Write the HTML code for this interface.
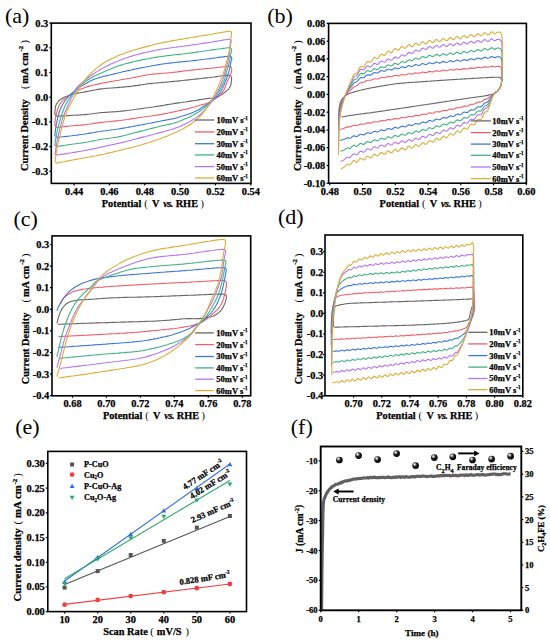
<!DOCTYPE html>
<html><head><meta charset="utf-8"><style>
html,body{margin:0;padding:0;background:#fff;}
body{width:550px;height:641px;overflow:hidden;}
svg{display:block;font-family:"Liberation Serif", serif;}
text{stroke:#000;stroke-width:0.25px;}
text[font-weight="normal"],tspan[font-weight="normal"]{stroke:none;}
</style></head><body>
<svg width="550" height="641" viewBox="0 0 550 641">
<rect width="550" height="641" fill="#fff"/>
<text x="5.0" y="22.6" font-size="22" font-weight="normal">(a)</text>
<path d="M54.8,113.8l0.1,-2 0.2,-2 0.2,-1.9 0.3,-1.6 0.5,-1.4 0.7,-1.3 0.7,-1.1 1.1,-1.5 1.4,-1.2 1.1,-0.9 1.3,-0.7 1.3,-0.7 1.6,-0.7 1.7,-0.6 1.8,-0.6 1.4,-0.5 1.5,-0.5 1.6,-0.4 1.7,-0.4 1.5,-0.4 1.6,-0.3 1.6,-0.3 1.7,-0.3 1.8,-0.3 1.8,-0.3 1.7,-0.3 1.7,-0.4 1.8,-0.3 1.8,-0.4 1.9,-0.4 1.9,-0.3 2.1,-0.4 2.1,-0.3 1.6,-0.2 1.7,-0.2 1.8,-0.2 1.8,-0.2 1.9,-0.1 2,-0.2 1.9,-0.1 2,-0.2 2,-0.1 2,-0.2 2,-0.1 2,-0.2 1.9,-0.2 1.9,-0.1 1.8,-0.2 1.7,-0.2 2,-0.2 1.9,-0.3 1.8,-0.3 1.9,-0.2 1.8,-0.3 1.7,-0.3 1.8,-0.2 1.8,-0.3 1.7,-0.2 1.8,-0.3 1.8,-0.2 1.8,-0.2 1.8,-0.2 1.9,-0.2 1.8,-0.1 1.8,-0.2 1.8,-0.1 1.8,-0.2 1.8,-0.1 1.9,-0.2 1.8,-0.1 1.8,-0.2 1.8,-0.2 1.8,-0.2 1.9,-0.1 1.8,-0.2 1.8,-0.2 1.8,-0.2 1.8,-0.2 1.8,-0.2 1.9,-0.2 1.8,-0.2 1.8,-0.2 1.8,-0.2 1.9,-0.2 1.8,-0.2 1.8,-0.2 1.9,-0.2 1.8,-0.2 1.8,-0.2 1.8,-0.2 1.8,-0.2 1.8,-0.2 1.8,-0.2 2.1,-0.3 2.1,-0.2 2.3,-0.4 2.2,-0.3 2.1,-0.3 2,-0.2 1.8,-0.2 1.6,-0.2 1.3,0 1.8,0 1.2,0.4 0.8,1.2 0.3,1.5 0,1.4 -0.3,1.6 -0.2,1.5 -0.2,1.7 -0.5,1.5 -0.7,1.2 -0.8,1.1 -1,1.1 -1.1,1.1 -1.3,1.1 -1.4,1.1 -1.3,0.9 -1.4,0.9 -1.4,0.8 -1.4,0.7 -1.7,0.6 -1.8,0.5 -1.9,0.4 -1.5,0.3 -1.7,0.2 -1.6,0.2 -1.7,0.2 -1.7,0.2 -1.6,0.3 -1.6,0.2 -1.6,0.3 -1.7,0.3 -1.7,0.3 -1.9,0.3 -1.9,0.3 -2,0.3 -2.1,0.3 -2,0.3 -1.9,0.3 -1.7,0.2 -1.6,0.3 -1.6,0.2 -1.6,0.2 -1.7,0.2 -1.8,0.3 -1.7,0.3 -1.8,0.3 -1.8,0.3 -1.9,0.3 -1.9,0.3 -1.9,0.4 -2,0.3 -2,0.3 -1.7,0.3 -1.8,0.2 -1.7,0.3 -1.9,0.3 -1.8,0.2 -1.8,0.3 -1.9,0.3 -1.9,0.2 -1.8,0.3 -1.9,0.3 -1.8,0.2 -1.8,0.2 -1.8,0.3 -1.9,0.2 -1.8,0.3 -1.8,0.2 -1.8,0.3 -1.8,0.2 -1.8,0.2 -1.9,0.2 -1.8,0.2 -1.8,0.2 -1.8,0.2 -1.9,0.1 -1.8,0.2 -1.9,0.1 -1.9,0.1 -1.8,0.1 -1.8,0.2 -1.9,0.1 -1.7,0.1 -1.8,0.1 -1.7,0.2 -2,0.2 -1.9,0.2 -1.9,0.3 -1.8,0.2 -1.9,0.3 -1.8,0.2 -1.8,0.2 -1.9,0.2 -1.9,0.2 -1.9,0.1 -1.9,0.1 -1.9,0.1 -1.8,0.1 -1.9,0.1 -1.9,0.1 -1.8,0.1 -1.9,0.1 -1.9,0.1 -1.9,0.1 -1.8,0.1 -1.9,0.1 -1.8,0.1 -1.9,0.2Z" fill="none" stroke="#666666" stroke-width="1.1" stroke-linejoin="round"/>
<path d="M54.8,125l0.1,-1.9 0.2,-1.9 0.2,-1.8 0.3,-1.9 0.4,-1.9 0.4,-1.9 0.5,-1.9 0.6,-1.8 0.5,-1.7 0.6,-1.6 0.6,-1.5 0.8,-1.4 1.1,-1.6 1.3,-1.5 1.4,-1.3 1.1,-1 1.2,-1 1.3,-0.9 1.4,-0.9 1.4,-1 1.5,-0.9 1.6,-0.9 1.7,-0.9 1.5,-0.8 1.6,-0.7 1.6,-0.8 1.7,-0.7 1.8,-0.7 1.8,-0.7 1.7,-0.6 1.7,-0.5 1.7,-0.5 1.9,-0.4 1.8,-0.5 2,-0.5 2,-0.4 2.2,-0.5 1.6,-0.3 1.7,-0.4 1.8,-0.3 1.8,-0.4 1.9,-0.3 2,-0.4 1.9,-0.3 2,-0.4 2,-0.3 2,-0.3 2,-0.4 2,-0.3 1.9,-0.3 1.9,-0.4 1.8,-0.3 1.7,-0.3 2,-0.4 1.9,-0.3 1.8,-0.4 1.9,-0.4 1.8,-0.3 1.7,-0.4 1.8,-0.3 1.7,-0.3 1.8,-0.4 1.8,-0.2 1.8,-0.3 1.8,-0.2 1.8,-0.2 1.8,-0.2 1.9,-0.2 1.8,-0.1 1.8,-0.1 1.8,-0.2 1.8,-0.1 1.9,-0.2 1.8,-0.1 1.8,-0.2 1.8,-0.2 1.8,-0.2 1.9,-0.2 1.8,-0.2 1.8,-0.3 1.8,-0.2 1.8,-0.2 1.8,-0.3 1.9,-0.2 1.8,-0.2 1.8,-0.2 1.8,-0.2 1.8,-0.2 1.9,-0.2 1.8,-0.2 1.8,-0.1 1.8,-0.2 1.9,-0.2 1.8,-0.2 1.8,-0.2 1.8,-0.1 1.8,-0.2 2,-0.2 2.2,-0.3 2.2,-0.2 2.2,-0.3 2.2,-0.2 2.1,-0.3 1.9,-0.1 1.7,-0.2 1.4,0 1.1,0 1.1,0.1 0.7,0.4 0.7,1.1 0.3,1.4 -0.2,1.7 -0.5,1.8 -0.6,1.8 -0.7,1.7 -0.9,1.6 -1,1.9 -0.6,1.4 -0.6,1.7 -0.7,1.8 -0.7,1.8 -0.7,1.8 -0.8,1.5 -1,1.6 -1,1.6 -1.1,1.3 -1.2,1.3 -1.4,1.1 -1.7,0.9 -1.6,0.9 -1.6,0.9 -1.4,0.9 -1.3,0.8 -1.3,0.9 -1.5,0.7 -1.4,0.6 -1.5,0.5 -1.6,0.4 -1.6,0.4 -1.6,0.5 -1.6,0.5 -1.7,0.5 -1.6,0.5 -1.8,0.5 -1.9,0.5 -1.6,0.4 -1.7,0.4 -1.8,0.5 -1.9,0.4 -1.9,0.4 -1.9,0.5 -1.9,0.4 -1.9,0.4 -1.8,0.4 -1.9,0.4 -1.8,0.4 -1.9,0.4 -1.8,0.4 -1.8,0.3 -1.9,0.4 -1.9,0.4 -2,0.3 -1.7,0.3 -1.8,0.3 -1.7,0.2 -1.9,0.3 -1.8,0.3 -1.8,0.2 -1.9,0.3 -1.9,0.2 -1.8,0.3 -1.9,0.2 -1.8,0.3 -1.8,0.3 -1.8,0.3 -1.9,0.2 -1.8,0.3 -1.8,0.3 -1.8,0.3 -1.8,0.3 -1.8,0.2 -1.9,0.3 -1.8,0.3 -1.8,0.2 -1.8,0.2 -1.9,0.2 -1.8,0.2 -1.9,0.2 -1.9,0.2 -1.8,0.2 -1.8,0.1 -1.9,0.2 -1.7,0.2 -1.8,0.2 -1.7,0.2 -2,0.3 -1.9,0.2 -1.9,0.3 -1.8,0.3 -1.9,0.3 -1.8,0.3 -1.8,0.2 -1.9,0.3 -1.9,0.1 -1.9,0.2 -1.9,0.2 -1.9,0.1 -1.8,0.1 -1.9,0.2 -1.9,0.1 -1.8,0.2 -1.9,0.2 -1.9,0.2 -1.9,0.2 -1.8,0.2 -1.9,0.3 -1.8,0.2 -1.9,0.2Z" fill="none" stroke="#EE5E6A" stroke-width="1.1" stroke-linejoin="round"/>
<path d="M54.8,135.6l0.2,-1.9 0.2,-1.9 0.3,-1.9 0.2,-1.8 0.3,-1.8 0.3,-2 0.4,-1.8 0.4,-1.9 0.4,-1.8 0.4,-1.8 0.5,-1.8 0.5,-1.7 0.5,-1.8 0.6,-1.7 0.6,-1.6 0.7,-1.5 0.8,-1.5 0.8,-1.5 0.9,-1.4 0.8,-1.3 1,-1.3 1,-1.3 1.1,-1.2 1.1,-1.1 1.1,-1.2 1.3,-1.2 1.2,-1.2 1.3,-1.1 1.3,-1 1.5,-1.1 1.4,-1.1 1.6,-1 1.8,-1.1 1.4,-0.9 1.5,-0.9 1.7,-1 1.7,-1 1.8,-0.9 1.9,-1 1.8,-0.8 1.9,-0.8 1.8,-0.6 1.7,-0.6 1.8,-0.5 1.9,-0.5 1.9,-0.5 1.8,-0.4 2,-0.5 1.9,-0.4 2,-0.5 1.7,-0.4 1.8,-0.5 1.8,-0.4 1.9,-0.5 1.9,-0.4 1.9,-0.5 1.9,-0.4 1.8,-0.4 1.9,-0.4 1.8,-0.4 1.7,-0.4 1.7,-0.4 2,-0.4 1.9,-0.4 1.8,-0.4 1.8,-0.3 1.8,-0.4 1.7,-0.3 1.8,-0.4 1.8,-0.3 1.8,-0.3 1.9,-0.4 1.8,-0.3 1.8,-0.3 1.8,-0.3 1.9,-0.3 1.7,-0.3 1.8,-0.3 1.8,-0.3 1.7,-0.2 1.8,-0.2 1.7,-0.2 1.7,-0.2 1.8,-0.2 1.8,-0.2 1.8,-0.2 1.8,-0.2 1.8,-0.2 1.9,-0.1 1.9,-0.2 1.9,-0.2 1.9,-0.2 2,-0.2 1.7,-0.2 1.8,-0.2 1.8,-0.2 1.8,-0.2 1.8,-0.2 1.9,-0.3 1.8,-0.2 1.9,-0.2 1.9,-0.3 1.8,-0.2 1.8,-0.2 2,-0.3 2.2,-0.2 2.2,-0.3 2.2,-0.4 2.2,-0.3 2.1,-0.2 2,-0.3 1.6,-0.2 1.4,-0.1 1.1,-0.1 0.9,-0.1 0.7,0.2 0.8,0.9 0.4,1.2 -0.1,1.2 -0.5,1.3 -0.4,1.4 -0.3,1.6 -0.3,1.8 -0.3,1.8 -0.3,1.7 -0.5,1.7 -0.5,1.5 -0.5,1.6 -0.5,1.4 -0.5,1.5 -0.5,1.5 -0.6,1.6 -0.6,1.6 -0.7,1.7 -0.7,1.7 -0.8,1.8 -0.8,1.7 -0.8,1.5 -1,1.7 -0.9,1.7 -1.1,1.5 -1.1,1.4 -1.2,1.2 -1.3,1.2 -1.4,1.1 -1.5,1.1 -1.5,1.1 -1.6,1 -1.7,1.2 -1.7,1.1 -1.7,1 -1.6,1 -1.5,0.9 -1.4,1 -1.4,0.8 -1.5,0.8 -1.5,0.8 -1.7,0.7 -1.8,0.7 -1.8,0.7 -1.9,0.6 -1.9,0.6 -1.7,0.6 -1.8,0.5 -1.8,0.6 -1.8,0.6 -1.9,0.5 -1.9,0.5 -1.7,0.4 -1.8,0.4 -1.8,0.4 -1.9,0.3 -1.9,0.4 -1.9,0.3 -2,0.4 -2,0.4 -1.7,0.3 -1.8,0.4 -1.7,0.3 -1.9,0.4 -1.8,0.4 -1.8,0.3 -1.9,0.4 -1.9,0.3 -1.8,0.4 -1.9,0.4 -1.8,0.3 -1.8,0.3 -1.8,0.4 -1.9,0.3 -1.8,0.4 -1.8,0.3 -1.8,0.3 -1.8,0.4 -1.8,0.3 -1.9,0.3 -1.8,0.3 -1.8,0.3 -1.8,0.3 -1.9,0.3 -1.8,0.2 -1.9,0.3 -1.9,0.2 -1.8,0.3 -1.8,0.2 -1.9,0.3 -1.7,0.2 -1.8,0.2 -1.7,0.3 -2,0.3 -1.9,0.3 -1.9,0.4 -1.8,0.3 -1.9,0.3 -1.8,0.3 -1.8,0.3 -1.9,0.3 -1.9,0.3 -1.9,0.2 -1.9,0.3 -1.9,0.3 -1.9,0.2 -1.8,0.2 -1.9,0.3 -1.8,0.2 -1.8,0.2 -1.9,0.2 -1.7,0.2 -1.8,0.2 -1.8,0.2 -1.7,0.2 -1.8,0.2Z" fill="none" stroke="#3A78D6" stroke-width="1.1" stroke-linejoin="round"/>
<path d="M54.8,145.6l0.2,-1.8 0.3,-1.8 0.2,-1.8 0.3,-1.7 0.3,-1.8 0.3,-1.7 0.4,-1.8 0.3,-1.7 0.4,-1.8 0.5,-1.7 0.4,-1.7 0.4,-1.7 0.4,-1.6 0.5,-1.7 0.5,-1.7 0.5,-1.7 0.5,-1.6 0.5,-1.7 0.6,-1.6 0.6,-1.7 0.6,-1.6 0.7,-1.7 0.6,-1.5 0.7,-1.5 0.8,-1.6 0.9,-1.5 0.9,-1.4 0.9,-1.5 1,-1.5 1.1,-1.6 1.1,-1.7 1.2,-1.8 1.2,-1.7 1.1,-1.5 1.1,-1.2 1,-1 1,-0.7 1.2,-0.8 1.1,-0.8 1.3,-1 1.4,-1 1.4,-1.1 1.6,-1.1 1.6,-1 1.6,-1 1.5,-0.8 1.5,-0.9 1.6,-0.8 1.6,-0.7 1.7,-0.8 1.6,-0.8 1.7,-0.7 1.7,-0.8 1.6,-0.7 1.8,-0.8 1.8,-0.8 1.8,-0.7 1.9,-0.8 1.8,-0.7 1.8,-0.7 1.9,-0.7 1.8,-0.6 1.8,-0.6 1.8,-0.5 1.8,-0.6 1.8,-0.5 1.8,-0.4 1.9,-0.5 1.8,-0.5 1.8,-0.4 1.8,-0.4 1.8,-0.4 1.9,-0.4 1.8,-0.4 1.8,-0.4 1.8,-0.3 1.9,-0.4 1.8,-0.3 1.8,-0.3 1.9,-0.4 1.8,-0.3 1.8,-0.3 1.8,-0.3 1.9,-0.3 1.7,-0.2 1.8,-0.3 1.8,-0.2 1.7,-0.3 1.8,-0.2 1.7,-0.2 1.7,-0.2 1.8,-0.2 1.8,-0.2 1.8,-0.2 1.8,-0.2 1.8,-0.2 1.9,-0.2 1.9,-0.2 1.9,-0.2 1.9,-0.3 2,-0.2 1.7,-0.2 1.8,-0.3 1.8,-0.2 1.8,-0.3 1.8,-0.3 1.9,-0.3 1.8,-0.2 1.9,-0.3 1.9,-0.3 1.8,-0.2 1.8,-0.3 2,-0.3 2.2,-0.3 2.2,-0.3 2.2,-0.3 2.2,-0.3 2.1,-0.3 2,-0.2 1.6,-0.2 1.4,-0.2 1.1,0 1,0 0.6,0.2 0.7,0.9 0.3,1.3 -0.1,1.2 -0.4,1.3 -0.4,1.4 -0.3,1.6 -0.2,1.7 -0.3,1.8 -0.3,1.7 -0.4,1.8 -0.4,1.8 -0.5,1.7 -0.4,1.6 -0.6,1.8 -0.7,1.9 -0.4,1.5 -0.4,1.6 -0.4,1.8 -0.4,1.8 -0.6,1.8 -0.6,1.7 -0.8,1.7 -0.8,1.7 -0.8,1.7 -0.9,1.7 -0.8,1.5 -1,1.8 -1,1.6 -1.1,1.6 -1.1,1.5 -1,1.3 -1.1,1.2 -1.1,1.2 -1.3,1.3 -1.2,1.2 -1.4,1.4 -1.4,1.4 -1.6,1.3 -1.5,1.4 -1.6,1.2 -1.5,1.1 -1.5,1 -1.6,1 -1.6,0.9 -1.6,0.9 -1.6,0.9 -1.5,0.8 -1.7,0.9 -1.7,0.8 -1.7,0.7 -1.6,0.7 -1.7,0.7 -1.6,0.6 -1.5,0.7 -1.5,0.6 -1.6,0.5 -1.8,0.6 -1.6,0.5 -1.8,0.4 -1.8,0.4 -1.9,0.4 -1.9,0.5 -2,0.4 -2,0.4 -2,0.5 -1.7,0.4 -1.8,0.5 -1.8,0.4 -1.8,0.5 -1.8,0.4 -1.8,0.5 -1.9,0.5 -1.9,0.5 -1.8,0.5 -1.9,0.4 -1.8,0.5 -1.8,0.5 -1.8,0.5 -1.8,0.4 -1.9,0.5 -1.8,0.5 -1.8,0.5 -1.8,0.5 -1.8,0.5 -1.9,0.4 -1.8,0.4 -1.8,0.4 -1.8,0.4 -1.9,0.3 -1.8,0.3 -1.9,0.3 -1.8,0.2 -1.9,0.3 -1.8,0.2 -1.9,0.3 -1.7,0.2 -1.8,0.3 -1.7,0.3 -2,0.4 -1.9,0.3 -1.9,0.4 -1.8,0.4 -1.9,0.4 -1.8,0.3 -1.8,0.4 -1.9,0.3 -1.9,0.3 -1.9,0.3 -1.9,0.2 -1.9,0.2 -1.9,0.3 -1.8,0.2 -1.9,0.2 -1.8,0.3 -1.9,0.3 -1.8,0.3 -1.8,0.2 -1.8,0.3 -1.8,0.3 -1.8,0.3 -1.8,0.3Z" fill="none" stroke="#40B283" stroke-width="1.1" stroke-linejoin="round"/>
<path d="M55,154.4l0.3,-1.8 0.2,-1.9 0.3,-1.8 0.3,-1.9 0.3,-1.8 0.3,-1.9 0.3,-1.8 0.4,-1.8 0.3,-1.8 0.4,-1.8 0.4,-1.8 0.4,-1.8 0.5,-1.7 0.4,-1.8 0.4,-1.7 0.5,-1.8 0.4,-1.7 0.5,-1.7 0.5,-1.7 0.5,-1.7 0.6,-1.7 0.6,-1.7 0.7,-1.8 0.7,-1.8 0.8,-1.7 0.7,-1.7 0.8,-1.7 0.7,-1.6 0.9,-1.9 0.8,-1.8 0.9,-1.8 0.8,-1.8 0.9,-1.7 0.8,-1.7 0.9,-1.7 0.9,-1.7 0.8,-1.5 0.9,-1.4 1,-1.3 1,-1 1.2,-1.2 1.1,-1 1.3,-1.1 1.3,-1.2 1.5,-1.2 1.6,-1.3 1.6,-1.2 1.6,-1.2 1.5,-1 1.5,-1.1 1.6,-1 1.6,-1.1 1.6,-1 1.7,-1.1 1.7,-0.9 1.6,-1 1.7,-0.9 1.6,-0.8 1.6,-0.8 1.6,-0.8 1.6,-0.8 1.7,-0.7 1.6,-0.7 1.6,-0.7 1.7,-0.6 1.6,-0.7 1.8,-0.7 1.8,-0.7 1.8,-0.7 1.8,-0.6 1.8,-0.7 1.9,-0.6 1.8,-0.5 1.8,-0.6 1.8,-0.5 1.8,-0.5 1.9,-0.5 1.8,-0.4 1.8,-0.5 1.8,-0.4 1.9,-0.4 1.8,-0.4 1.8,-0.4 1.8,-0.4 1.9,-0.4 1.8,-0.4 1.8,-0.3 1.9,-0.4 1.7,-0.3 1.8,-0.3 1.8,-0.3 1.7,-0.2 1.8,-0.3 1.7,-0.2 1.7,-0.2 1.8,-0.3 1.8,-0.2 1.8,-0.2 1.8,-0.3 1.8,-0.2 1.9,-0.3 1.9,-0.2 1.9,-0.3 1.9,-0.2 2,-0.3 1.7,-0.2 1.8,-0.3 1.8,-0.3 1.8,-0.2 1.8,-0.3 1.9,-0.3 1.8,-0.3 1.9,-0.3 1.9,-0.2 1.8,-0.3 1.8,-0.3 2,-0.3 2.2,-0.4 2.2,-0.4 2.3,-0.3 2.2,-0.4 2.1,-0.4 1.9,-0.3 1.7,-0.2 1.4,-0.2 1,-0.1 0.8,-0.1 0.6,0.2 0.5,0.6 0.3,1 -0.1,1.2 -0.4,1.4 -0.4,1.6 -0.2,1.5 -0.2,1.6 -0.2,1.8 -0.2,1.9 -0.2,1.8 -0.3,1.7 -0.3,1.7 -0.3,1.7 -0.4,1.6 -0.3,1.6 -0.4,1.6 -0.5,1.9 -0.5,1.8 -0.5,1.9 -0.5,1.9 -0.5,1.7 -0.4,1.8 -0.5,1.7 -0.6,1.8 -0.6,1.8 -0.6,1.6 -0.7,1.7 -0.7,1.7 -0.7,1.7 -0.8,1.7 -0.8,1.6 -0.8,1.7 -0.9,1.6 -0.9,1.7 -0.9,1.6 -0.9,1.5 -0.8,1.4 -1.1,1.6 -1,1.4 -1.2,1.5 -0.9,1.2 -1.1,1.3 -1.1,1.3 -1.1,1.3 -1.2,1.3 -1.1,1.2 -1.3,1.2 -1.2,1.1 -1.3,1.1 -1.3,1 -1.5,1.1 -1.4,1 -1.5,0.9 -1.5,1 -1.6,0.9 -1.7,1 -1.6,0.9 -1.6,0.8 -1.8,0.9 -1.7,0.8 -1.8,0.8 -1.8,0.8 -1.9,0.7 -1.9,0.7 -1.7,0.6 -1.8,0.6 -1.8,0.5 -1.9,0.5 -1.9,0.5 -1.9,0.5 -2,0.6 -2,0.5 -1.7,0.5 -1.8,0.4 -1.7,0.5 -1.9,0.5 -1.8,0.5 -1.8,0.5 -1.9,0.5 -1.9,0.5 -1.8,0.4 -1.9,0.5 -1.8,0.5 -1.8,0.5 -1.8,0.4 -1.9,0.5 -1.8,0.5 -1.8,0.5 -1.8,0.4 -1.8,0.5 -1.8,0.5 -1.9,0.4 -1.8,0.5 -1.8,0.4 -1.8,0.4 -1.9,0.4 -1.8,0.4 -1.9,0.4 -1.8,0.4 -1.9,0.4 -1.8,0.4 -1.8,0.4 -1.8,0.4 -1.8,0.3 -1.7,0.4 -2,0.4 -1.9,0.5 -1.9,0.4 -1.8,0.4 -1.9,0.4 -1.8,0.4 -1.8,0.3 -1.9,0.4 -1.9,0.3 -1.9,0.4 -1.9,0.3 -1.9,0.3 -1.8,0.3 -1.9,0.3 -1.9,0.3 -1.8,0.3 -1.9,0.3 -1.9,0.3 -1.8,0.3 -1.9,0.3 -1.8,0.2 -1.9,0.3 -1.8,0.3Z" fill="none" stroke="#B277EE" stroke-width="1.1" stroke-linejoin="round"/>
<path d="M55,160.6l0.3,-1.9 0.3,-1.9 0.3,-1.8 0.3,-1.9 0.3,-1.9 0.4,-1.8 0.3,-1.9 0.4,-1.8 0.3,-1.8 0.4,-1.8 0.4,-1.7 0.4,-1.8 0.5,-1.8 0.4,-1.8 0.5,-1.9 0.4,-2 0.5,-1.9 0.5,-2 0.5,-1.9 0.6,-1.9 0.5,-1.9 0.5,-1.7 0.6,-1.8 0.6,-1.8 0.6,-1.7 0.6,-1.6 0.5,-1.5 0.6,-1.4 0.8,-1.8 0.8,-1.6 0.9,-1.6 0.8,-1.6 0.9,-1.6 0.9,-1.6 0.9,-1.7 0.8,-1.6 0.9,-1.6 0.8,-1.6 0.9,-1.6 0.9,-1.6 0.9,-1.6 0.9,-1.5 1,-1.5 1,-1.6 1.1,-1.5 1.1,-1.4 1.1,-1.4 1.1,-1.5 1.2,-1.4 1.4,-1.4 1.4,-1.5 1.2,-1.2 1.3,-1.2 1.4,-1.2 1.4,-1.2 1.5,-1.3 1.5,-1.2 1.6,-1.2 1.5,-1.1 1.6,-1.1 1.5,-1 1.6,-1 1.6,-0.9 1.6,-0.8 1.6,-0.9 1.6,-0.7 1.7,-0.8 1.6,-0.7 1.7,-0.7 1.6,-0.7 1.8,-0.7 1.8,-0.7 1.8,-0.7 1.8,-0.6 1.8,-0.6 1.9,-0.6 1.8,-0.5 1.8,-0.6 1.8,-0.6 1.8,-0.5 1.9,-0.6 1.8,-0.5 1.8,-0.5 1.8,-0.5 1.9,-0.5 1.8,-0.5 1.8,-0.5 1.8,-0.4 1.9,-0.5 1.8,-0.5 1.8,-0.4 1.9,-0.4 1.7,-0.4 1.8,-0.4 1.8,-0.4 1.7,-0.3 1.8,-0.3 1.7,-0.4 1.7,-0.3 1.8,-0.3 1.8,-0.3 1.8,-0.3 1.8,-0.3 1.8,-0.3 1.9,-0.3 1.9,-0.3 1.9,-0.4 1.9,-0.3 2,-0.3 1.7,-0.3 1.8,-0.3 1.8,-0.3 1.8,-0.3 1.8,-0.3 1.9,-0.3 1.9,-0.3 1.8,-0.3 1.9,-0.3 1.8,-0.3 1.8,-0.3 2,-0.3 2.1,-0.4 2.1,-0.4 2.2,-0.4 2.1,-0.4 2.1,-0.3 1.8,-0.4 1.7,-0.2 1.4,-0.3 1,-0.1 1,-0.2 0.7,0.1 0.8,0.6 0.5,1.1 0.1,1.5 -0.4,1.8 -0.3,2.1 -0.2,1.5 -0.2,1.7 -0.2,1.8 -0.2,1.8 -0.2,1.8 -0.3,1.7 -0.3,1.7 -0.4,1.7 -0.3,1.6 -0.4,1.6 -0.4,1.6 -0.4,1.8 -0.4,1.7 -0.5,1.7 -0.4,1.7 -0.5,1.8 -0.5,1.9 -0.5,1.9 -0.6,1.9 -0.6,1.7 -0.6,1.8 -0.6,1.7 -0.7,1.8 -0.7,1.8 -0.6,1.6 -0.7,1.7 -0.6,1.7 -0.7,1.7 -0.8,1.6 -0.7,1.7 -0.8,1.7 -0.9,1.7 -0.9,1.8 -0.9,1.7 -0.9,1.6 -0.8,1.5 -1,1.7 -0.9,1.5 -0.9,1.5 -1,1.5 -1,1.5 -1,1.5 -1.1,1.6 -1.1,1.5 -1.2,1.5 -1.2,1.4 -1.3,1.3 -1.3,1.3 -1.4,1.3 -1.4,1.2 -1.5,1.2 -1.5,1.1 -1.5,1.1 -1.6,1.1 -1.5,1 -1.6,1 -1.6,1 -1.6,0.9 -1.8,0.9 -1.5,0.7 -1.6,0.8 -1.6,0.8 -1.7,0.7 -1.8,0.8 -1.7,0.7 -1.6,0.7 -1.7,0.7 -1.5,0.7 -1.6,0.6 -1.6,0.7 -1.7,0.6 -1.9,0.7 -1.6,0.6 -1.6,0.5 -1.7,0.6 -1.8,0.6 -1.9,0.6 -1.9,0.6 -1.9,0.6 -1.9,0.6 -2,0.6 -1.8,0.6 -1.9,0.5 -1.8,0.5 -1.8,0.5 -1.8,0.5 -1.9,0.5 -1.8,0.4 -1.8,0.5 -1.8,0.4 -1.8,0.5 -1.9,0.4 -1.8,0.5 -1.8,0.4 -1.8,0.4 -1.9,0.5 -1.8,0.4 -1.9,0.5 -1.8,0.4 -1.9,0.4 -1.8,0.5 -1.8,0.4 -1.8,0.4 -1.8,0.3 -1.7,0.4 -2,0.4 -1.9,0.4 -1.9,0.3 -1.8,0.4 -1.9,0.3 -1.8,0.3 -1.8,0.4 -1.9,0.3 -1.9,0.3 -1.9,0.4 -1.9,0.3 -1.8,0.4 -1.9,0.3 -1.9,0.4 -1.9,0.3 -1.8,0.4 -2,0.4 -1.9,0.4 -2,0.4 -1.9,0.3 -1.9,0.4 -2,0.4 -1.9,0.4Z" fill="none" stroke="#DAAD34" stroke-width="1.1" stroke-linejoin="round"/>
<rect x="51.30" y="23.10" width="199.70" height="160.30" fill="none" stroke="#000" stroke-width="1.6"/>
<line x1="49.30" y1="23.10" x2="51.30" y2="23.10" stroke="#000" stroke-width="1.2"/>
<text x="48.20" y="26.50" font-size="10.4" text-anchor="end" font-weight="bold" >0.3</text>
<line x1="49.30" y1="47.80" x2="51.30" y2="47.80" stroke="#000" stroke-width="1.2"/>
<text x="48.20" y="51.20" font-size="10.4" text-anchor="end" font-weight="bold" >0.2</text>
<line x1="49.30" y1="72.50" x2="51.30" y2="72.50" stroke="#000" stroke-width="1.2"/>
<text x="48.20" y="75.90" font-size="10.4" text-anchor="end" font-weight="bold" >0.1</text>
<line x1="49.30" y1="97.20" x2="51.30" y2="97.20" stroke="#000" stroke-width="1.2"/>
<text x="48.20" y="100.60" font-size="10.4" text-anchor="end" font-weight="bold" >0.0</text>
<line x1="49.30" y1="121.90" x2="51.30" y2="121.90" stroke="#000" stroke-width="1.2"/>
<text x="48.20" y="125.30" font-size="10.4" text-anchor="end" font-weight="bold" >-0.1</text>
<line x1="49.30" y1="146.60" x2="51.30" y2="146.60" stroke="#000" stroke-width="1.2"/>
<text x="48.20" y="150.00" font-size="10.4" text-anchor="end" font-weight="bold" >-0.2</text>
<line x1="49.30" y1="171.30" x2="51.30" y2="171.30" stroke="#000" stroke-width="1.2"/>
<text x="48.20" y="174.70" font-size="10.4" text-anchor="end" font-weight="bold" >-0.3</text>
<line x1="74.10" y1="183.40" x2="74.10" y2="185.40" stroke="#000" stroke-width="1.2"/>
<text x="74.10" y="195.20" font-size="10.4" text-anchor="middle" font-weight="bold" >0.44</text>
<line x1="109.44" y1="183.40" x2="109.44" y2="185.40" stroke="#000" stroke-width="1.2"/>
<text x="109.44" y="195.20" font-size="10.4" text-anchor="middle" font-weight="bold" >0.46</text>
<line x1="144.78" y1="183.40" x2="144.78" y2="185.40" stroke="#000" stroke-width="1.2"/>
<text x="144.78" y="195.20" font-size="10.4" text-anchor="middle" font-weight="bold" >0.48</text>
<line x1="180.12" y1="183.40" x2="180.12" y2="185.40" stroke="#000" stroke-width="1.2"/>
<text x="180.12" y="195.20" font-size="10.4" text-anchor="middle" font-weight="bold" >0.50</text>
<line x1="215.46" y1="183.40" x2="215.46" y2="185.40" stroke="#000" stroke-width="1.2"/>
<text x="215.46" y="195.20" font-size="10.4" text-anchor="middle" font-weight="bold" >0.52</text>
<line x1="250.80" y1="183.40" x2="250.80" y2="185.40" stroke="#000" stroke-width="1.2"/>
<text x="250.80" y="195.20" font-size="10.4" text-anchor="middle" font-weight="bold" >0.54</text>
<text y="207.00" font-size="10.3" font-weight="bold"><tspan x="101.80">Potential</tspan><tspan x="144.20" font-weight="normal">(</tspan><tspan x="152.00">V</tspan><tspan x="163.20" font-style="italic" letter-spacing="-0.45">vs.</tspan><tspan x="175.70">RHE</tspan><tspan x="200.40" font-weight="normal">)</tspan></text>
<text transform="translate(27.60,0) rotate(-90)" y="0" font-size="10.3" font-weight="bold"><tspan x="-170.90">Current Density</tspan><tspan x="-89.10" font-weight="normal">(</tspan><tspan x="-83.70">mA cm</tspan><tspan x="-51.40" font-size="6.80" dy="-4.43">-2</tspan><tspan x="-43.60" dy="4.43" font-weight="normal">)</tspan></text>
<line x1="195.00" y1="120.00" x2="214.30" y2="120.00" stroke="#666666" stroke-width="1.3"/>
<text x="216.50" y="122.90" font-size="8.5" font-weight="bold">10mV s<tspan font-size="5.10" dy="-3.40">-1</tspan></text>
<line x1="195.00" y1="131.90" x2="214.30" y2="131.90" stroke="#EE5E6A" stroke-width="1.3"/>
<text x="216.50" y="134.80" font-size="8.5" font-weight="bold">20mV s<tspan font-size="5.10" dy="-3.40">-1</tspan></text>
<line x1="195.00" y1="143.70" x2="214.30" y2="143.70" stroke="#3A78D6" stroke-width="1.3"/>
<text x="216.50" y="146.60" font-size="8.5" font-weight="bold">30mV s<tspan font-size="5.10" dy="-3.40">-1</tspan></text>
<line x1="195.00" y1="154.90" x2="214.30" y2="154.90" stroke="#40B283" stroke-width="1.3"/>
<text x="216.50" y="157.80" font-size="8.5" font-weight="bold">40mV s<tspan font-size="5.10" dy="-3.40">-1</tspan></text>
<line x1="195.00" y1="166.60" x2="214.30" y2="166.60" stroke="#B277EE" stroke-width="1.3"/>
<text x="216.50" y="169.50" font-size="8.5" font-weight="bold">50mV s<tspan font-size="5.10" dy="-3.40">-1</tspan></text>
<line x1="195.00" y1="178.00" x2="214.30" y2="178.00" stroke="#DAAD34" stroke-width="1.3"/>
<text x="216.50" y="180.90" font-size="8.5" font-weight="bold">60mV s<tspan font-size="5.10" dy="-3.40">-1</tspan></text>
<text x="267.3" y="22.6" font-size="22" font-weight="normal">(b)</text>
<path d="M338.8,116l0,-0.9 0.1,-0.9 0,-0.9 0,-0.9 0,-0.9 0.1,-0.9 0,-0.9 0.1,-0.9 0.1,-0.8 0.1,-0.9 0.2,-0.9 0.1,-0.9 0.2,-0.9 0.2,-0.8 0.2,-0.8 0.3,-0.8 0.4,-0.9 0.5,-0.8 0.5,-0.8 0.5,-0.8 0.6,-0.7 0.7,-0.7 0.7,-0.6 0.7,-0.6 0.8,-0.6 0.7,-0.5 0.8,-0.4 0.7,-0.5 0.9,-0.4 1,-0.4 0.7,-0.3 0.8,-0.3 0.9,-0.3 0.9,-0.2 0.9,-0.3 1,-0.3 1,-0.3 1,-0.2 1,-0.3 1.1,-0.3 1,-0.2 1.1,-0.3 0.9,-0.2 0.8,-0.2 0.9,-0.2 0.9,-0.2 1,-0.2 0.9,-0.2 0.9,-0.2 1,-0.2 1,-0.2 1,-0.2 0.9,-0.2 1,-0.2 1,-0.1 1,-0.2 1,-0.2 1,-0.2 1,-0.2 0.9,-0.1 1,-0.2 1,-0.2 0.9,-0.1 0.9,-0.2 1,-0.2 0.9,-0.1 0.9,-0.2 0.9,-0.1 1,-0.2 0.9,-0.1 0.9,-0.2 1,-0.1 0.9,-0.2 1,-0.1 0.9,-0.2 1,-0.1 1,-0.1 1,-0.2 1.1,-0.1 1,-0.1 0.9,-0.1 0.9,-0.1 0.9,-0.1 0.9,-0.1 0.9,-0.1 0.9,0 0.9,-0.1 1,-0.1 0.9,-0.1 1,-0.1 0.9,0 1,-0.1 1,-0.1 1,0 0.9,-0.1 1,-0.1 1,0 1,-0.1 1,-0.1 1,0 1.1,-0.1 1,-0.1 1,0 1,-0.1 1.1,-0.1 1,-0.1 1.1,0 1,-0.1 0.9,-0.1 0.9,0 1,-0.1 0.9,-0.1 1,0 0.9,-0.1 1,-0.1 0.9,0 1,-0.1 1,-0.1 0.9,0 1,-0.1 1,-0.1 1,0 1,-0.1 1,-0.1 1,0 1,-0.1 1,-0.1 1,0 1,-0.1 1,-0.1 1,0 1,-0.1 1,-0.1 1,0 1,-0.1 1,-0.1 1,0 1,-0.1 1,0 1,-0.1 1,-0.1 1,0 1,-0.1 1,0 1,-0.1 1,-0.1 1,0 1.1,-0.1 1,0 1.1,-0.1 1.2,-0.1 1.1,0 1.1,-0.1 1.2,-0.1 1.1,-0.1 1.2,0 1.2,-0.1 1.1,-0.1 1.2,0 1.2,-0.1 1.1,-0.1 1.2,0 1.1,-0.1 1.1,-0.1 1.1,0 1.1,-0.1 1.1,0 1,-0.1 1,0 1,-0.1 1,0 0.9,-0.1 0.9,0 0.8,0 0.8,-0.1 0.8,0 0.7,0 0.7,0 0.6,0 0.6,0 0.5,0 0.4,0 1.1,0 0.8,0 0.7,0.3 0.6,0.9 0.4,1.2 0.3,0.6 0.1,-0.2 0.1,-0.1 0,0.3 -0.1,0.7 -0.1,1 -0.2,1.2 -0.3,1.2 -0.3,1.1 -0.3,1 -0.4,0.8 -0.4,0.8 -0.4,0.7 -0.5,0.7 -0.5,0.7 -0.5,0.6 -0.6,0.6 -0.6,0.5 -0.7,0.5 -0.7,0.5 -0.8,0.4 -0.7,0.3 -0.8,0.3 -0.9,0.3 -0.8,0.3 -1,0.2 -1,0.2 -1,0.2 -1,0.3 -1.1,0.2 -0.8,0.2 -0.8,0.1 -0.9,0.2 -0.8,0.1 -0.9,0.1 -0.9,0.2 -0.9,0.1 -0.9,0.1 -0.9,0.1 -1,0.2 -1,0.1 -1,0.1 -1.1,0.2 -1.1,0.1 -1.1,0.2 -1.2,0.1 -1.2,0.2 -0.7,0.1 -0.8,0.1 -0.8,0.1 -0.8,0.2 -0.8,0.1 -0.8,0.1 -0.9,0.1 -0.9,0.2 -0.9,0.1 -0.9,0.1 -0.9,0.2 -0.9,0.1 -1,0.2 -0.9,0.1 -1,0.1 -1,0.2 -1,0.1 -1,0.2 -1,0.1 -1,0.2 -1,0.1 -1,0.2 -1.1,0.2 -1,0.1 -1.1,0.2 -1,0.1 -1.1,0.2 -1.1,0.2 -1,0.1 -1.1,0.2 -1.1,0.1 -1,0.2 -1.1,0.2 -1.1,0.1 -1,0.2 -1.1,0.1 -1.1,0.2 -1,0.2 -1.1,0.1 -1,0.2 -1.1,0.1 -1,0.2 -1.1,0.1 -1,0.2 -1,0.2 -1,0.1 -1,0.2 -1,0.1 -1,0.1 -1,0.2 -1,0.1 -1,0.2 -1,0.1 -1,0.2 -1,0.2 -1.1,0.1 -1,0.2 -1,0.1 -1,0.2 -1.1,0.1 -1,0.2 -1,0.1 -1.1,0.2 -1,0.1 -1.1,0.2 -1,0.2 -1,0.1 -1.1,0.2 -1,0.1 -1,0.2 -1.1,0.1 -1,0.2 -1,0.1 -1,0.2 -1,0.1 -1,0.2 -1.1,0.1 -1,0.2 -1,0.1 -0.9,0.2 -1,0.1 -1,0.2 -1,0.1 -0.9,0.1 -1,0.2 -0.9,0.1 -1,0.2 -0.9,0.1 -0.9,0.1 -0.9,0.2 -0.9,0.1 -0.9,0.1 -0.9,0.1 -0.8,0.2 -0.9,0.1 -0.8,0.1 -1.1,0.2 -1.1,0.1 -1.1,0.2 -1.1,0.1 -1.1,0.2 -1.1,0.1 -1,0.1 -1.1,0.2 -1,0.1 -1.1,0.2 -1,0.1 -1,0.1 -1,0.2 -1,0.1 -1,0.1 -0.9,0.1 -0.9,0.2 -0.9,0.1 -0.9,0.1 -0.9,0.1 -0.8,0.1 -0.9,0.2 -0.8,0.1 -0.7,0.1 -0.8,0.1 -0.7,0.1 -1.2,0.2 -1,0.2 -1,0.1 -0.9,0.2 -0.9,0.2 -0.9,0.1 -0.9,0.2 -0.9,0.1 -0.9,0.2" fill="none" stroke="#666666" stroke-width="1.1" stroke-linejoin="round"/>
<path d="M338.6,125l0,-0.9 0,-1 0.1,-0.9 0,-1 0,-1 0,-0.9 0,-1 0,-1 0,-0.9 0.1,-0.9 0,-0.9 0.1,-0.9 0,-0.9 0.1,-0.8 0.1,-1 0.1,-1 0.2,-0.9 0.1,-0.9 0.2,-0.9 0.1,-0.9 0.2,-0.8 0.3,-0.8 0.2,-0.8 0.3,-0.9 0.4,-0.9 0.4,-0.8 0.5,-0.8 0.4,-0.8 0.5,-0.8 0.5,-0.7 0.4,-0.7 0.5,-0.6 0.5,-0.7 0.6,-0.6 0.5,-0.7 0.5,-0.6 0.5,-0.7 0.5,-0.6 0.6,-0.6 0.5,-0.7 0.7,-0.6 0.7,-0.6 0.6,-0.5 0.7,-0.6 0.6,-0.7 0.8,-0.8 0.7,-0.7 0.8,-0.6 0.9,-0.3 0.8,-0.3 0.9,-0.4 0.9,-0.7 0.9,-0.8 0.9,-0.8 1,-0.7 0.9,-0.2 0.8,-0.1 0.9,-0.1 0.9,-0.2 0.9,-0.5 0.9,-0.6 0.9,-0.5 1,-0.3 0.9,0 1,0.1 1,0 1,-0.3 1,-0.5 1,-0.5 1,-0.2 1,0 1,0.2 1,0 0.9,-0.3 1,-0.5 0.9,-0.5 1,-0.2 0.9,0 1,0.2 0.9,0 0.9,-0.1 0.9,-0.4 1,-0.5 0.9,-0.3 0.9,0 1,0.2 0.9,0.1 1,0 0.9,-0.4 1,-0.4 1,-0.4 1,0 1.1,0.1 1,0.2 0.9,0 0.9,-0.3 0.9,-0.5 0.9,-0.3 0.9,-0.2 0.9,0.2 0.9,0.2 1,0.1 0.9,-0.2 1,-0.4 0.9,-0.5 1,-0.2 1,0.1 1,0.2 0.9,0.1 1,-0.1 1,-0.4 1,-0.5 1,-0.2 1,0.1 1.1,0.2 1,0.1 1,-0.1 1,-0.5 1.1,-0.4 1,-0.2 1.1,0.2 1,0.3 0.9,0 0.9,-0.2 1,-0.4 0.9,-0.4 1,-0.2 0.9,0.2 1,0.2 0.9,0.1 1,-0.1 1,-0.4 0.9,-0.4 1,-0.2 1,0.1 1,0.3 1,0.1 1,-0.1 1,-0.4 1,-0.4 1,-0.2 1,0.1 1,0.3 1,0.1 1,-0.1 1,-0.4 1,-0.4 1,-0.2 1,0.2 1,0.2 1,0.1 1,-0.2 1,-0.4 1,-0.3 1,-0.1 1,0.1 1,0.3 1,0.1 1,-0.2 1,-0.5 1,-0.3 1.1,-0.1 1,0.2 1.1,0.3 1.2,-0.1 1.1,-0.4 1.1,-0.4 1.2,-0.2 1.1,0.2 1.2,0.3 1.2,-0.1 1.1,-0.4 1.2,-0.4 1.2,-0.2 1.1,0.2 1.2,0.3 1.1,0 1.1,-0.5 1.1,-0.4 1.1,-0.2 1.1,0.2 1,0.3 1,0.1 1,-0.2 1,-0.4 0.9,-0.4 0.9,-0.1 0.8,0.2 0.8,0.2 0.8,0.2 0.7,0 0.7,-0.1 0.6,-0.2 0.6,-0.1 0.5,-0.1 0.4,0 1.1,0.1 0.8,0 0.7,0.3 0.6,0.6 0.4,1 0.3,1.1 0.1,0.7 0.1,0.8 0.1,0.9 0.1,1 0,1.1 0,1.1 0,1 0,1.1 -0.1,1 0,1 -0.1,0.9 -0.1,1 -0.1,1 -0.2,1 -0.1,0.9 -0.3,0.9 -0.2,0.9 -0.3,0.8 -0.4,0.8 -0.4,0.8 -0.4,0.7 -0.5,0.7 -0.5,0.7 -0.5,0.6 -0.6,0.6 -0.6,0.4 -0.7,0.5 -0.7,0.5 -0.8,0.5 -0.6,0.4 -0.6,0.5 -0.7,0.6 -0.7,0.5 -0.7,0.5 -0.8,0.6 -0.8,0.7 -0.8,0.7 -0.8,0.6 -0.9,0.5 -0.9,0.2 -0.7,0.2 -0.8,0.2 -0.8,0.5 -0.8,0.6 -0.8,0.6 -0.8,0.5 -0.8,0.3 -0.9,0.1 -0.9,0 -0.9,0.1 -0.9,0.4 -1,0.6 -1,0.6 -1,0.4 -1.1,0.1 -1,-0.1 -1.2,0.2 -1.1,0.5 -0.7,0.5 -0.8,0.4 -0.7,0.3 -0.8,0.1 -0.8,0 -0.8,-0.1 -0.9,0 -0.8,0.3 -0.9,0.4 -0.8,0.5 -0.9,0.4 -0.9,0.1 -1,-0.1 -0.9,-0.1 -0.9,0.1 -1,0.4 -1,0.5 -0.9,0.5 -1,0.2 -1,-0.1 -1,-0.1 -1,0 -1,0.4 -1.1,0.5 -1,0.5 -1,0.1 -1.1,-0.1 -1,-0.1 -1.1,0.1 -1,0.5 -1,0.5 -1.1,0.4 -1,0 -1.1,-0.2 -1,0 -1.1,0.2 -1,0.6 -1.1,0.5 -1,0.2 -1.1,-0.1 -1,-0.2 -1,0.1 -1,0.3 -1,0.6 -1.1,0.4 -1,0.1 -0.9,-0.1 -1,-0.2 -1,0.1 -1,0.4 -1,0.5 -1,0.4 -1,0.1 -1,-0.1 -1,-0.2 -1,0.1 -1,0.4 -1.1,0.6 -1,0.3 -1,0 -1.1,-0.2 -1,-0.1 -1,0.2 -1.1,0.5 -1,0.5 -1,0.2 -1.1,-0.1 -1,-0.2 -1.1,0 -1,0.3 -1,0.5 -1.1,0.4 -1,0.2 -1,-0.2 -1,-0.2 -1,0.1 -1,0.4 -1.1,0.5 -1,0.3 -0.9,0.1 -1,-0.2 -1,-0.2 -1,0.1 -1,0.4 -0.9,0.5 -1,0.3 -0.9,0.1 -1,-0.1 -0.9,-0.2 -0.9,0 -0.9,0.3 -0.9,0.4 -0.9,0.4 -0.9,0.3 -0.8,0 -0.9,-0.2 -0.8,-0.1 -1.1,0.1 -1.1,0.5 -1.1,0.5 -1.1,0.3 -1.1,0 -1,-0.2 -1.1,0 -1,0.3 -1.1,0.5 -1,0.4 -1,0.2 -1,-0.1 -1,-0.2 -1,0.1 -0.9,0.3 -1,0.5 -0.9,0.4 -0.9,0.2 -0.9,0 -0.9,-0.2 -0.8,0 -0.9,0.1 -0.8,0.4 -0.8,0.4 -0.7,0.4 -0.8,0.3 -1.1,0.1 -1,-0.1 -1,0.2 -1,0.3 -0.9,0.4 -0.8,0.4 -0.9,0.2 -0.8,0.3 -0.9,0.3 -0.9,0.2 -0.9,0.3" fill="none" stroke="#EE5E6A" stroke-width="1.1" stroke-linejoin="round"/>
<path d="M338.5,133l0,-0.9 0.1,-1 0,-0.9 0,-1 0,-1 0,-0.9 0,-1 0.1,-0.9 0,-1 0,-0.9 0,-1 0.1,-0.9 0,-0.9 0.1,-0.9 0,-0.9 0.1,-0.9 0.1,-1 0.1,-1 0.1,-0.9 0.1,-1 0.1,-0.9 0.1,-1 0.1,-0.9 0.1,-0.9 0.2,-0.9 0.1,-0.8 0.2,-0.9 0.2,-0.8 0.3,-1 0.2,-0.9 0.3,-0.9 0.3,-0.9 0.4,-0.8 0.3,-0.8 0.3,-0.9 0.4,-0.8 0.4,-0.9 0.4,-0.9 0.4,-0.8 0.4,-0.9 0.5,-0.8 0.4,-0.9 0.5,-0.8 0.5,-0.8 0.4,-0.7 0.5,-0.8 0.5,-0.8 0.5,-0.7 0.5,-0.7 0.5,-0.7 0.6,-0.7 0.6,-0.6 0.6,-0.8 0.6,-0.8 0.6,-1 0.6,-0.9 0.6,-0.9 0.7,-0.5 0.7,-0.2 0.7,-0.2 0.7,-0.3 0.7,-0.5 0.8,-0.8 0.7,-1 0.9,-1 0.9,-0.8 1,-0.2 0.7,0 0.7,0.1 0.8,0 0.8,-0.4 0.8,-0.8 0.9,-0.8 0.9,-0.7 0.9,-0.3 1,0.2 0.9,0.2 1,0 1,-0.6 0.9,-0.9 1,-0.8 1,-0.3 1,0.2 1,0.3 0.9,0 1,-0.5 0.9,-0.8 0.9,-0.7 1,-0.4 0.9,0.2 0.9,0.3 1,0.2 0.9,-0.2 0.9,-0.7 0.9,-0.7 1,-0.5 0.9,0 1,0.4 0.9,0.4 1,-0.1 0.9,-0.5 1,-0.8 1,-0.5 1,-0.1 1.1,0.4 1,0.4 0.9,-0.1 0.9,-0.4 0.9,-0.7 0.9,-0.6 0.9,-0.2 0.9,0.2 0.9,0.4 1,0.2 0.9,-0.2 1,-0.7 0.9,-0.7 1,-0.4 1,0.2 0.9,0.4 1,0.3 1,-0.2 1,-0.6 1,-0.8 1,-0.3 1,0.2 1.1,0.4 1,0.3 1,-0.3 1,-0.7 1.1,-0.7 1,-0.2 1.1,0.4 1,0.5 0.9,0.1 0.9,-0.3 1,-0.7 0.9,-0.6 0.9,-0.2 1,0.2 1,0.5 0.9,0.3 1,-0.2 1,-0.6 0.9,-0.7 1,-0.3 1,0.3 1,0.5 1,0.3 1,-0.2 1,-0.6 1,-0.7 1,-0.2 1,0.2 1,0.6 1,0.3 1,-0.3 1,-0.6 1,-0.7 1,-0.1 1,0.3 1,0.5 1,0.2 1,-0.3 1,-0.6 1,-0.6 1,-0.2 1,0.4 1,0.5 1,0.2 1,-0.3 1,-0.7 1,-0.6 1.1,-0.1 1,0.4 1.1,0.5 1.2,0 1.1,-0.6 1.1,-0.8 1.2,-0.3 1.1,0.4 1.2,0.6 1.2,-0.1 1.1,-0.6 1.2,-0.8 1.2,-0.2 1.1,0.4 1.2,0.5 1.1,0 1.1,-0.7 1.1,-0.7 1.1,-0.3 1.1,0.4 1,0.5 1,0.2 1,-0.4 1,-0.6 0.9,-0.6 0.9,-0.1 0.8,0.2 0.8,0.4 0.8,0.4 0.7,0 0.7,-0.2 0.6,-0.3 0.6,-0.2 0.5,-0.1 0.4,0 1.1,0.1 0.8,0 0.7,0.3 0.6,0.6 0.4,0.9 0.3,1.2 0.1,0.6 0.1,0.6 0.1,0.8 0.1,0.8 0,0.9 0.1,1 0,1 0.1,1.1 0,1.1 0,1.1 0,1.1 0,1.2 0,1.1 -0.1,1.1 0,1.1 0,1.1 -0.1,1 0,0.9 -0.1,0.9 0,0.9 -0.1,0.7 -0.1,1.1 -0.1,1.1 -0.2,0.9 -0.2,0.9 -0.2,0.9 -0.2,0.8 -0.3,0.8 -0.4,0.8 -0.4,0.8 -0.4,0.7 -0.5,0.7 -0.5,0.7 -0.5,0.6 -0.6,0.6 -0.6,0.4 -0.7,0.4 -0.7,0.5 -0.8,0.6 -0.5,0.5 -0.6,0.6 -0.5,0.7 -0.6,0.7 -0.5,0.7 -0.6,0.7 -0.7,0.8 -0.6,1 -0.7,1 -0.7,1 -0.7,0.8 -0.8,0.5 -0.8,0.3 -0.7,0.1 -0.7,0.3 -0.7,0.6 -0.7,0.8 -0.8,1 -0.8,0.8 -0.7,0.5 -0.9,0.2 -0.8,-0.1 -0.8,0 -0.9,0.2 -0.9,0.7 -0.9,1 -1,0.9 -1,0.4 -1,0 -1,-0.3 -1.1,0.2 -1.1,0.8 -0.7,0.7 -0.8,0.6 -0.7,0.5 -0.8,0.1 -0.8,-0.2 -0.8,-0.2 -0.8,-0.1 -0.9,0.4 -0.8,0.6 -0.9,0.8 -0.9,0.6 -0.9,0.2 -0.9,-0.3 -1,-0.3 -0.9,0.1 -1,0.5 -0.9,0.8 -1,0.7 -1,0.3 -1,-0.2 -1,-0.4 -1,0 -1,0.5 -1,0.9 -1.1,0.7 -1,0.1 -1,-0.3 -1.1,-0.3 -1,0.1 -1.1,0.7 -1,0.9 -1.1,0.5 -1,-0.1 -1.1,-0.4 -1,-0.2 -1.1,0.4 -1,0.8 -1.1,0.8 -1,0.2 -1,-0.2 -1.1,-0.4 -1,0 -1,0.5 -1,0.9 -1.1,0.6 -1,0.1 -0.9,-0.3 -1,-0.3 -1,0 -1,0.6 -0.9,0.8 -1,0.6 -1,0.1 -1,-0.3 -1,-0.4 -1,0 -1,0.6 -1,0.8 -1,0.6 -1,0.1 -1,-0.4 -1,-0.4 -1,0.1 -1,0.7 -1.1,0.8 -1,0.5 -1,-0.1 -1,-0.4 -1,-0.3 -1,0.2 -1.1,0.7 -1,0.8 -1,0.4 -1,-0.2 -1,-0.4 -1,-0.3 -1,0.3 -1,0.7 -0.9,0.8 -1,0.3 -1,-0.2 -1,-0.4 -0.9,-0.2 -1,0.2 -0.9,0.7 -1,0.7 -0.9,0.4 -0.9,0 -0.9,-0.4 -0.9,-0.3 -0.9,0 -0.9,0.5 -0.9,0.7 -0.9,0.6 -0.8,0.3 -0.9,-0.1 -0.8,-0.3 -0.8,-0.3 -1.1,0.1 -1.1,0.7 -1.1,0.9 -1.1,0.4 -1.1,-0.1 -1,-0.5 -1.1,-0.1 -1,0.5 -1.1,0.8 -1,0.7 -1,0.2 -1,-0.2 -1,-0.4 -1,0 -0.9,0.5 -1,0.8 -0.9,0.7 -0.9,0.2 -0.9,-0.1 -0.9,-0.4 -0.8,-0.1 -0.8,0.1 -0.9,0.6 -0.8,0.7 -0.7,0.6 -0.8,0.3 -1.1,-0.1 -1,-0.3 -1,0.1 -0.9,0.4 -0.9,0.6 -0.9,0.3 -0.9,0.3 -0.8,0.2 -0.9,0.3 -0.9,0.2 -0.9,0.3" fill="none" stroke="#3A78D6" stroke-width="1.1" stroke-linejoin="round"/>
<path d="M338.5,142l0,-1 0,-0.9 0.1,-1 0,-1 0,-1 0,-1 0,-1 0,-0.9 0,-1 0,-1 0.1,-1 0,-1 0,-1 0,-0.9 0,-1 0.1,-0.9 0,-0.9 0,-0.9 0.1,-0.9 0,-0.9 0.1,-0.8 0.1,-1 0.1,-1 0.1,-1 0,-1 0.1,-0.9 0.1,-1 0.2,-0.9 0.1,-0.9 0.1,-0.8 0.1,-0.9 0.2,-0.9 0.1,-0.8 0.2,-0.9 0.2,-1 0.2,-0.9 0.2,-0.9 0.3,-1 0.2,-0.9 0.3,-0.9 0.3,-0.8 0.2,-0.9 0.3,-0.9 0.3,-0.8 0.3,-0.9 0.4,-0.9 0.3,-0.9 0.4,-0.8 0.4,-0.9 0.4,-0.8 0.4,-0.9 0.4,-0.9 0.4,-0.9 0.4,-0.9 0.4,-0.9 0.5,-0.9 0.4,-0.9 0.4,-0.9 0.5,-0.9 0.5,-0.8 0.5,-0.7 0.5,-0.7 0.5,-0.8 0.5,-0.9 0.6,-1 0.5,-1 0.6,-1 0.6,-0.8 0.6,-0.5 0.6,-0.2 0.6,-0.1 0.6,-0.3 0.7,-0.4 0.6,-0.8 0.7,-1 0.7,-1.2 0.7,-1.1 0.9,-0.8 0.9,-0.2 0.7,0.2 0.7,0.2 0.8,0.1 0.8,-0.4 0.8,-0.9 0.9,-1 0.9,-0.8 0.9,-0.2 0.9,0.4 1,0.5 1,0 1,-0.6 0.9,-1.1 1,-0.9 1,-0.2 1,0.3 1,0.6 0.9,0.1 1,-0.6 0.9,-1 0.9,-1 1,-0.3 0.9,0.2 1,0.5 0.9,0.3 0.9,-0.3 0.9,-0.8 1,-1 0.9,-0.7 0.9,0.1 1,0.5 0.9,0.4 1,0 0.9,-0.7 1,-1.1 1,-0.8 1,0 1.1,0.5 1,0.5 0.8,-0.1 0.9,-0.6 0.9,-0.9 0.8,-0.9 0.9,-0.3 0.9,0.2 0.9,0.5 0.9,0.3 0.9,-0.2 0.9,-0.7 1,-1 0.9,-0.8 0.9,-0.1 1,0.4 0.9,0.5 1,0.1 0.9,-0.6 1,-1 1,-0.9 0.9,-0.3 1,0.4 1,0.6 1,0.2 1,-0.6 1,-1 1,-0.9 1,-0.2 1,0.5 1,0.6 0.9,0.2 0.9,-0.5 1,-0.8 0.9,-0.9 0.9,-0.3 1,0.4 0.9,0.6 1,0.4 1,-0.2 0.9,-0.8 1,-0.9 1,-0.4 1,0.3 1,0.7 1,0.5 1,-0.2 1,-0.8 1,-0.9 1,-0.3 1,0.3 1,0.8 1,0.4 1,-0.3 1,-0.8 1,-0.9 1,-0.2 1,0.4 1,0.8 1,0.3 1,-0.4 1,-0.9 1,-0.8 1,-0.1 1,0.5 1,0.7 1,0.3 1,-0.5 1,-0.9 1,-0.8 1.1,-0.1 1,0.6 1.1,0.7 1.2,0 1.1,-0.9 1.1,-1 1.2,-0.4 1.1,0.6 1.2,0.7 1.2,0 1.1,-0.9 1.2,-1 1.2,-0.3 1.1,0.6 1.2,0.7 1.1,0 1.1,-0.9 1.1,-1 1.1,-0.4 1.1,0.5 1,0.7 1,0.3 1,-0.5 1,-0.9 0.9,-0.7 0.9,-0.2 0.8,0.3 0.8,0.6 0.8,0.4 0.7,0 0.7,-0.2 0.6,-0.4 0.6,-0.3 0.5,-0.2 0.4,0 1.1,0.1 0.8,0.1 0.7,0.3 0.6,0.6 0.4,0.9 0.3,1.2 0.1,0.5 0.1,0.6 0.1,0.7 0.1,0.8 0,0.8 0.1,0.9 0,1 0.1,1 0,1 0.1,1.1 0,1.2 0,1.2 0,1.1 0,1.3 0,1.2 0,1.2 0,1.2 0,1.2 -0.1,1.2 0,1.2 0,1.1 0,1.1 -0.1,1.1 0,1 -0.1,0.9 0,0.9 -0.1,0.9 0,0.7 -0.1,0.7 -0.1,1.2 -0.1,1.1 -0.2,0.9 -0.2,0.9 -0.2,0.8 -0.2,0.8 -0.3,0.8 -0.4,0.8 -0.4,0.8 -0.4,0.7 -0.5,0.7 -0.5,0.7 -0.5,0.6 -0.6,0.5 -0.7,0.5 -0.6,0.4 -0.8,0.4 -0.7,0.7 -0.4,0.5 -0.5,0.6 -0.4,0.7 -0.5,0.7 -0.4,0.8 -0.5,0.7 -0.4,0.8 -0.5,0.9 -0.5,0.9 -0.6,1 -0.5,1.1 -0.6,1.1 -0.6,1 -0.6,0.8 -0.6,0.5 -0.7,0.2 -0.6,0.1 -0.7,0.4 -0.7,0.6 -0.7,1 -0.7,1.1 -0.7,1.1 -0.7,0.8 -0.8,0.4 -0.7,0 -0.8,-0.2 -0.9,0.1 -0.8,0.4 -0.9,1 -0.9,1.3 -0.9,1 -0.9,0.4 -1,-0.2 -1,-0.3 -1,0.2 -1.1,1 -0.7,0.9 -0.7,0.8 -0.8,0.6 -0.7,0.1 -0.8,-0.2 -0.8,-0.4 -0.8,-0.1 -0.8,0.3 -0.8,0.8 -0.9,1 -0.9,0.9 -0.8,0.3 -0.9,-0.2 -1,-0.5 -0.9,-0.2 -0.9,0.4 -0.9,0.9 -1,1.1 -1,0.6 -0.9,0 -1,-0.5 -1,-0.4 -1,0.3 -1,0.9 -1,1.1 -1,0.7 -1,-0.2 -1.1,-0.5 -1,-0.3 -1,0.4 -1,1 -1.1,1.1 -1,0.4 -1,-0.4 -1.1,-0.5 -1,-0.2 -1,0.7 -1,1.1 -1.1,0.9 -1,0.1 -1,-0.4 -1,-0.5 -1,0 -1,0.8 -1,1.1 -1,0.7 -1,0.1 -1,-0.5 -0.9,-0.5 -1,0.1 -1,0.7 -0.9,1 -1,0.8 -1,0.2 -1,-0.5 -1,-0.6 -1,0 -1,0.7 -1,1.1 -1,0.8 -1,0 -1,-0.5 -1,-0.6 -1,0.1 -1,0.8 -1.1,1.1 -1,0.6 -1,-0.1 -1,-0.6 -1,-0.5 -1,0.2 -1,0.9 -1.1,1 -1,0.5 -1,-0.2 -1,-0.6 -1,-0.4 -1,0.3 -1,0.9 -0.9,1 -1,0.4 -1,-0.2 -1,-0.7 -0.9,-0.3 -1,0.2 -0.9,0.9 -1,0.9 -0.9,0.6 -0.9,-0.1 -0.9,-0.5 -0.9,-0.5 -0.9,0 -0.9,0.6 -0.9,0.9 -0.9,0.8 -0.8,0.3 -0.9,-0.1 -0.8,-0.5 -0.8,-0.4 -1.1,0.1 -1.1,0.9 -1.1,1.2 -1.1,0.5 -1.1,-0.2 -1.1,-0.7 -1,-0.1 -1.1,0.6 -1,1.1 -1.1,0.9 -1,0.2 -1,-0.5 -1,-0.5 -1,0.1 -0.9,0.7 -1,1 -0.9,0.9 -0.9,0.2 -0.9,-0.2 -0.8,-0.5 -0.9,-0.3 -0.8,0.3 -0.8,0.7 -0.8,0.9 -0.8,0.8 -0.7,0.4 -1,0 -1,-0.4 -0.9,0 -0.9,0.5 -0.8,0.6 -0.8,0.6 -0.8,0.4 -0.8,0.3 -0.8,0.3 -0.8,0.3 -0.8,0.4" fill="none" stroke="#40B283" stroke-width="1.1" stroke-linejoin="round"/>
<path d="M338.5,150l0,-1 0,-0.9 0,-1 0.1,-1 0,-1 0,-1 0,-1 0,-1.1 0,-1 0,-1 0,-1 0,-1 0,-1 0,-1 0.1,-1 0,-1 0,-0.9 0,-1 0,-1 0.1,-0.9 0,-0.9 0,-0.9 0.1,-0.9 0,-0.8 0,-0.9 0.1,-0.8 0.1,-1.1 0.1,-1 0,-1 0.1,-1 0.1,-0.9 0.1,-1 0.1,-0.9 0.1,-0.9 0.1,-0.9 0.1,-0.8 0.2,-0.9 0.1,-0.9 0.1,-0.8 0.2,-0.9 0.2,-1 0.2,-0.9 0.2,-1 0.2,-0.9 0.2,-0.9 0.2,-0.9 0.3,-0.9 0.2,-0.9 0.3,-0.9 0.2,-0.8 0.3,-0.9 0.3,-0.9 0.3,-0.9 0.3,-0.9 0.4,-0.9 0.3,-0.9 0.3,-0.8 0.4,-0.9 0.3,-0.9 0.4,-0.9 0.3,-0.8 0.4,-0.9 0.3,-0.9 0.3,-0.8 0.4,-0.9 0.4,-0.9 0.3,-0.9 0.4,-0.9 0.4,-0.8 0.4,-0.8 0.4,-0.7 0.4,-0.7 0.5,-0.9 0.5,-0.9 0.4,-1.1 0.5,-1.1 0.5,-1.2 0.6,-1 0.5,-0.9 0.5,-0.4 0.6,-0.2 0.6,-0.2 0.5,-0.2 0.6,-0.4 0.5,-0.6 0.6,-1 0.6,-1.2 0.7,-1.3 0.7,-1.2 0.8,-0.7 0.8,-0.2 0.7,0.2 0.7,0.3 0.7,0.1 0.8,-0.5 0.9,-1.1 0.9,-1.2 0.9,-1 0.9,-0.3 0.9,0.4 1,0.6 1,0.1 0.9,-0.8 1,-1.3 1,-1.2 1,-0.3 1,0.5 1,0.6 0.9,0.1 1,-0.7 0.9,-1.2 0.9,-1.2 1,-0.4 0.9,0.2 0.9,0.7 1,0.4 0.9,-0.4 0.9,-1 1,-1.2 0.9,-0.7 0.9,0 1,0.6 0.9,0.6 1,0 0.9,-0.9 1,-1.3 1,-0.9 1,-0.1 1.1,0.7 1,0.6 0.9,-0.1 0.8,-0.8 0.9,-1.1 0.8,-1.1 0.9,-0.4 0.9,0.2 0.9,0.6 0.9,0.4 0.9,-0.3 0.9,-0.9 1,-1.3 0.9,-0.9 0.9,-0.2 1,0.4 0.9,0.6 1,0.1 0.9,-0.7 1,-1.3 0.9,-1.1 1,-0.4 1,0.4 1,0.7 1,0.2 1,-0.6 1,-1.3 1,-1.1 1,-0.3 1,0.6 1,0.7 0.9,0.2 0.9,-0.5 1,-1.1 0.9,-1 0.9,-0.4 1,0.4 0.9,0.8 1,0.5 0.9,-0.2 1,-1 1,-1.1 1,-0.5 1,0.4 0.9,0.8 1,0.6 1,-0.2 1,-1 1,-1 1,-0.5 1,0.5 1,0.9 1.1,0.5 1,-0.3 1,-1 1,-1.1 1,-0.3 1,0.6 1,0.9 1,0.5 1,-0.5 1,-1.1 1,-0.9 1,-0.2 1,0.7 1,0.8 1,0.4 1,-0.6 1,-1.1 1,-0.9 1.1,-0.1 1,0.8 1.1,0.9 1.1,0 1.2,-1 1.1,-1.2 1.2,-0.4 1.1,0.7 1.2,1 1.2,0 1.1,-1.1 1.2,-1.2 1.2,-0.2 1.1,0.8 1.2,0.9 1.1,0 1.1,-1.1 1.1,-1.1 1.1,-0.4 1.1,0.6 1,1 1,0.3 1,-0.5 1,-1.1 0.9,-0.8 0.9,-0.2 0.8,0.4 0.8,0.8 0.8,0.5 0.7,0.1 0.7,-0.4 0.6,-0.4 0.6,-0.3 0.5,-0.2 0.4,0 1.1,0.1 0.8,0.1 0.7,0.3 0.6,0.6 0.4,0.9 0.3,1.2 0.1,0.5 0.1,0.5 0.1,0.6 0,0.7 0.1,0.7 0.1,0.8 0,0.9 0.1,0.9 0,0.9 0.1,1 0,1.1 0,1.1 0.1,1.1 0,1.1 0,1.2 0,1.2 0,1.2 0,1.2 0,1.2 0,1.2 0,1.3 0,1.2 0,1.2 0,1.2 -0.1,1.2 0,1.2 0,1.1 0,1.2 -0.1,1 0,1.1 -0.1,1 0,1 0,0.9 -0.1,0.9 0,0.8 -0.1,0.7 0,0.7 -0.1,0.6 -0.1,1.2 -0.2,1.1 -0.1,1 -0.2,0.8 -0.2,0.8 -0.2,0.8 -0.3,0.8 -0.4,0.8 -0.4,0.8 -0.4,0.7 -0.5,0.7 -0.5,0.7 -0.5,0.6 -0.6,0.5 -0.7,0.4 -0.7,0.4 -0.7,0.5 -0.7,0.7 -0.4,0.5 -0.4,0.6 -0.4,0.7 -0.4,0.8 -0.4,0.8 -0.4,0.8 -0.4,0.9 -0.4,0.8 -0.4,0.9 -0.5,1.1 -0.4,1.1 -0.5,1.1 -0.5,1.3 -0.5,1.1 -0.5,1.1 -0.6,0.8 -0.6,0.5 -0.6,0.2 -0.6,0.1 -0.6,0.3 -0.7,0.7 -0.6,1 -0.7,1.3 -0.6,1.3 -0.7,1 -0.7,0.7 -0.8,0.2 -0.7,-0.2 -0.8,-0.2 -0.8,0.2 -0.8,0.8 -0.8,1.2 -0.9,1.5 -0.9,1 -0.9,0.3 -0.9,-0.3 -1,-0.3 -1,0.2 -1,1.2 -0.7,1 -0.7,1 -0.7,0.7 -0.7,0.2 -0.8,-0.2 -0.8,-0.5 -0.7,-0.2 -0.8,0.2 -0.9,0.8 -0.8,1.2 -0.8,1.1 -0.9,0.6 -0.9,-0.1 -0.9,-0.5 -0.9,-0.5 -0.9,0.2 -0.9,1 -0.9,1.3 -1,1 -0.9,0.2 -1,-0.4 -0.9,-0.6 -1,-0.1 -1,0.8 -1,1.3 -0.9,1.1 -1,0.3 -1,-0.4 -1,-0.7 -1.1,-0.1 -1,0.8 -1,1.4 -1,1 -1,0.2 -1,-0.6 -1,-0.6 -1,0.1 -1,0.9 -1.1,1.3 -1,0.9 -1,0 -1,-0.6 -1,-0.6 -1,0.2 -0.9,1 -1,1.2 -1,0.9 -1,0 -0.9,-0.7 -1,-0.6 -0.9,0.1 -1,0.8 -0.9,1.2 -1,1 -1,0.1 -1,-0.6 -1,-0.7 -0.9,-0.1 -1,0.8 -1.1,1.2 -1,0.9 -1,0.1 -1,-0.8 -1,-0.7 -1,0.1 -1,0.9 -1,1.2 -1.1,0.7 -1,-0.2 -1,-0.8 -1,-0.6 -1,0.2 -1,1 -1.1,1.2 -1,0.5 -1,-0.3 -1,-0.8 -1,-0.5 -1,0.3 -1,1.1 -1,1.1 -0.9,0.4 -1,-0.4 -1,-0.8 -0.9,-0.4 -1,0.2 -0.9,1 -1,1.1 -0.9,0.7 -0.9,-0.2 -1,-0.7 -0.9,-0.6 -0.9,0 -0.8,0.6 -0.9,1.1 -0.9,1 -0.8,0.4 -0.9,-0.3 -0.8,-0.5 -0.8,-0.6 -1.1,0.1 -1.1,1 -1,1.4 -1.1,0.8 -1,-0.2 -1.1,-0.7 -1,-0.4 -1,0.6 -1,1.2 -1,1.3 -1,0.5 -1,-0.3 -0.9,-0.6 -1,-0.3 -0.9,0.5 -0.9,1.1 -0.9,1.2 -0.9,0.8 -0.9,0.1 -0.8,-0.4 -0.8,-0.5 -0.9,-0.1 -0.7,0.4 -0.8,0.9 -0.8,1.1 -0.7,0.9 -0.7,0.5 -1,0 -1,-0.4 -0.9,0 -0.9,0.6 -0.8,0.8 -0.8,0.8 -0.8,0.5 -0.8,0.3 -0.8,0.5 -0.8,0.4 -0.8,0.5" fill="none" stroke="#B277EE" stroke-width="1.1" stroke-linejoin="round"/>
<path d="M338.5,155l0,-1 0,-0.9 0,-1 0.1,-1 0,-1 0,-1 0,-1 0,-1 0,-1.1 0,-1 0,-1 0,-1 0,-1 0,-1 0.1,-1 0,-1 0,-1 0,-0.9 0,-1 0,-1 0.1,-0.9 0,-0.9 0,-1 0,-0.9 0.1,-0.8 0,-0.9 0.1,-0.9 0,-0.8 0.1,-1.1 0,-1 0.1,-1 0.1,-1 0,-1 0.1,-1 0.1,-0.9 0.1,-1 0.1,-0.9 0.1,-0.9 0.1,-0.9 0.1,-0.9 0.1,-0.8 0.1,-0.9 0.2,-0.9 0.1,-0.8 0.2,-1 0.2,-1 0.2,-0.9 0.2,-0.9 0.2,-0.9 0.3,-0.9 0.2,-0.9 0.2,-0.9 0.3,-0.8 0.2,-0.9 0.3,-0.9 0.3,-0.9 0.2,-1 0.3,-0.9 0.3,-0.9 0.3,-0.9 0.3,-0.9 0.3,-0.9 0.3,-1 0.3,-1 0.4,-1 0.3,-0.8 0.3,-0.9 0.3,-0.9 0.3,-0.9 0.4,-0.9 0.3,-1 0.4,-0.9 0.3,-1 0.4,-1 0.4,-0.8 0.4,-0.9 0.4,-0.8 0.4,-0.8 0.4,-1 0.4,-1 0.5,-1.1 0.4,-1.1 0.5,-1.4 0.6,-1.1 0.5,-0.9 0.6,-0.4 0.5,-0.2 0.6,0 0.6,-0.1 0.6,-0.4 0.7,-0.9 0.6,-1.2 0.7,-1.6 0.7,-1.5 0.7,-1 0.7,-0.5 0.7,0 0.8,0.3 0.8,0.2 0.8,-0.4 0.8,-1.1 0.8,-1.6 0.9,-1.5 0.8,-0.9 0.8,-0.2 0.8,0.4 0.8,0.4 0.8,0.1 0.8,-0.7 0.8,-1.2 0.8,-1.4 0.8,-1.1 0.7,-0.5 0.8,0.1 0.8,0.6 0.8,0.5 0.9,0 0.9,-0.8 0.9,-1.6 0.8,-1.1 0.7,-0.8 0.8,0 0.9,0.5 0.8,0.6 0.8,0.2 0.9,-0.6 0.9,-1.3 0.9,-1.5 0.9,-0.9 1,0 0.9,0.7 1,0.7 0.9,-0.1 1,-1.2 1,-1.6 1,-1.1 1,0 1,0.8 1,0.8 0.8,-0.1 0.9,-0.8 0.9,-1.3 0.8,-1.2 0.9,-0.4 0.9,0.3 0.9,0.9 0.9,0.6 0.9,-0.1 0.9,-1 0.9,-1.3 1,-1 0.9,-0.1 0.9,0.7 1,0.9 0.9,0.3 1,-0.7 1,-1.3 0.9,-1.2 1,-0.3 1,0.7 1,1 1,0.4 1,-0.7 1,-1.4 1,-1.2 1,-0.2 1,0.8 1,1 0.9,0.3 0.9,-0.6 1,-1.2 0.9,-1.2 0.9,-0.4 1,0.5 0.9,1.1 1,0.6 1,-0.3 0.9,-1.2 1,-1.2 1,-0.6 1,0.5 1,1 1,0.8 1,-0.3 1,-1.2 1,-1.3 1,-0.5 1,0.5 1,1.1 1,0.7 1,-0.4 1,-1.2 1,-1.3 1,-0.3 1,0.7 1,1.1 1,0.5 1,-0.6 1,-1.3 1,-1.1 1,-0.2 1,0.7 1,1.1 1,0.4 1,-0.6 1,-1.3 1,-1.2 1.1,-0.1 1,1 1.1,1.1 1.1,0 1.2,-1.2 1.1,-1.5 1.2,-0.4 1.1,0.9 1.2,1.2 1.2,0 1.1,-1.3 1.2,-1.4 1.2,-0.3 1.1,0.9 1.2,1.1 1.1,0 1.1,-1.2 1.1,-1.4 1.1,-0.4 1.1,0.7 1,1.1 1,0.5 1,-0.7 1,-1.2 0.9,-1.1 0.9,-0.3 0.8,0.6 0.8,0.8 0.8,0.7 0.7,0 0.7,-0.4 0.6,-0.5 0.6,-0.5 0.5,-0.2 0.4,-0.1 1.1,0.1 0.8,-0.1 0.7,0.2 0.6,0.5 0.4,0.9 0.3,1.3 0.1,0.4 0.1,0.5 0,0.6 0.1,0.6 0.1,0.6 0,0.8 0.1,0.7 0.1,0.9 0,0.9 0.1,0.9 0,0.9 0,1 0.1,1.1 0,1.1 0,1.1 0,1.1 0.1,1.1 0,1.2 0,1.2 0,1.2 0,1.2 0,1.3 0,1.2 0,1.2 0,1.3 0,1.2 0,1.2 0,1.3 -0.1,1.2 0,1.2 0,1.2 0,1.1 -0.1,1.2 0,1.1 0,1.1 -0.1,1 0,1 0,1 -0.1,0.9 0,0.9 -0.1,0.9 0,0.8 -0.1,0.7 0,0.7 0,0.6 -0.1,0.6 -0.1,1.3 -0.2,1 -0.1,1 -0.2,0.8 -0.2,0.8 -0.2,0.8 -0.3,0.8 -0.4,0.8 -0.4,0.8 -0.4,0.7 -0.5,0.7 -0.5,0.7 -0.5,0.6 -0.6,0.5 -0.7,0.4 -0.7,0.4 -0.7,0.5 -0.7,0.7 -0.4,0.5 -0.3,0.6 -0.4,0.7 -0.3,0.7 -0.3,0.8 -0.4,0.9 -0.3,0.9 -0.3,0.9 -0.4,0.9 -0.3,1 -0.4,1 -0.4,1.1 -0.3,1.2 -0.4,1.2 -0.4,1.3 -0.5,1.3 -0.4,1.2 -0.5,1.1 -0.5,0.7 -0.5,0.5 -0.6,0.1 -0.6,0.1 -0.6,0.4 -0.5,0.7 -0.7,1 -0.6,1.4 -0.6,1.5 -0.7,1.3 -0.6,0.9 -0.7,0.4 -0.7,0 -0.7,-0.3 -0.8,-0.1 -0.7,0.4 -0.8,1.1 -0.8,1.5 -0.8,1.6 -0.9,1 -0.9,0.2 -0.9,-0.4 -0.9,-0.5 -1,0.3 -1,1.4 -0.7,1.2 -0.7,1.2 -0.7,0.8 -0.7,0.2 -0.8,-0.3 -0.7,-0.6 -0.8,-0.4 -0.8,0.2 -0.8,1 -0.9,1.3 -0.8,1.3 -0.9,0.7 -0.8,-0.1 -0.9,-0.7 -0.9,-0.6 -0.9,0.1 -1,1.1 -0.9,1.5 -0.9,1.2 -1,0.3 -0.9,-0.5 -1,-0.9 -1,-0.1 -0.9,0.8 -1,1.5 -1,1.3 -1,0.4 -1,-0.6 -1,-0.8 -1,-0.2 -1,0.9 -1,1.6 -1.1,1.2 -1,0.2 -1,-0.7 -1,-0.9 -1,0 -1,1.1 -1,1.6 -1,1.1 -1.1,-0.1 -1,-0.8 -1,-0.7 -0.9,0.1 -1,1.1 -1,1.5 -1,1 -1,0 -0.9,-0.8 -1,-0.8 -0.9,0 -1,1 -0.9,1.5 -1,1.1 -1,0.1 -1,-0.8 -1,-0.8 -0.9,-0.2 -1,1 -1,1.5 -1.1,1 -1,0.1 -1,-0.9 -1,-0.9 -1,0 -1,1.1 -1,1.5 -1,0.9 -1.1,-0.3 -1,-0.9 -1,-0.8 -1,0.2 -1,1.3 -1,1.4 -1,0.6 -1.1,-0.4 -1,-1 -1,-0.7 -1,0.4 -0.9,1.3 -1,1.3 -1,0.6 -1,-0.4 -1,-1 -0.9,-0.7 -1,0.4 -0.9,1.1 -1,1.4 -0.9,0.7 -0.9,-0.2 -0.9,-0.9 -0.9,-0.7 -0.9,-0.1 -0.9,0.7 -0.9,1.3 -0.9,1.1 -0.8,0.5 -0.9,-0.3 -0.8,-0.8 -0.8,-0.6 -1.1,-0.1 -1,1.2 -1.1,1.6 -1.1,0.9 -1,-0.3 -1.1,-1 -1,-0.6 -1,0.6 -1,1.4 -1,1.4 -1,0.5 -1,-0.4 -0.9,-0.9 -1,-0.5 -0.9,0.4 -0.9,1.3 -0.9,1.4 -0.9,0.8 -0.9,0 -0.8,-0.6 -0.9,-0.7 -0.8,-0.2 -0.8,0.4 -0.7,1.1 -0.8,1.2 -0.7,1 -0.7,0.6 -1,-0.1 -0.9,-0.6 -0.8,-0.1 -0.8,0.5 -0.8,0.9 -0.7,0.9 -0.8,0.7 -0.7,0.4 -0.7,0.4 -0.7,0.5 -0.7,0.5 -0.8,0.5" fill="none" stroke="#DAAD34" stroke-width="1.1" stroke-linejoin="round"/>
<rect x="328.60" y="23.40" width="197.80" height="159.80" fill="none" stroke="#000" stroke-width="1.6"/>
<line x1="326.60" y1="23.40" x2="328.60" y2="23.40" stroke="#000" stroke-width="1.2"/>
<text x="325.30" y="26.80" font-size="10.4" text-anchor="end" font-weight="bold" >0.08</text>
<line x1="326.60" y1="41.16" x2="328.60" y2="41.16" stroke="#000" stroke-width="1.2"/>
<text x="325.30" y="44.56" font-size="10.4" text-anchor="end" font-weight="bold" >0.06</text>
<line x1="326.60" y1="58.92" x2="328.60" y2="58.92" stroke="#000" stroke-width="1.2"/>
<text x="325.30" y="62.32" font-size="10.4" text-anchor="end" font-weight="bold" >0.04</text>
<line x1="326.60" y1="76.68" x2="328.60" y2="76.68" stroke="#000" stroke-width="1.2"/>
<text x="325.30" y="80.08" font-size="10.4" text-anchor="end" font-weight="bold" >0.02</text>
<line x1="326.60" y1="94.44" x2="328.60" y2="94.44" stroke="#000" stroke-width="1.2"/>
<text x="325.30" y="97.84" font-size="10.4" text-anchor="end" font-weight="bold" >0.00</text>
<line x1="326.60" y1="112.20" x2="328.60" y2="112.20" stroke="#000" stroke-width="1.2"/>
<text x="325.30" y="115.60" font-size="10.4" text-anchor="end" font-weight="bold" >-0.02</text>
<line x1="326.60" y1="129.96" x2="328.60" y2="129.96" stroke="#000" stroke-width="1.2"/>
<text x="325.30" y="133.36" font-size="10.4" text-anchor="end" font-weight="bold" >-0.04</text>
<line x1="326.60" y1="147.72" x2="328.60" y2="147.72" stroke="#000" stroke-width="1.2"/>
<text x="325.30" y="151.12" font-size="10.4" text-anchor="end" font-weight="bold" >-0.06</text>
<line x1="326.60" y1="165.48" x2="328.60" y2="165.48" stroke="#000" stroke-width="1.2"/>
<text x="325.30" y="168.88" font-size="10.4" text-anchor="end" font-weight="bold" >-0.08</text>
<line x1="326.60" y1="183.24" x2="328.60" y2="183.24" stroke="#000" stroke-width="1.2"/>
<text x="325.30" y="186.64" font-size="10.4" text-anchor="end" font-weight="bold" >-0.10</text>
<line x1="329.80" y1="183.20" x2="329.80" y2="185.20" stroke="#000" stroke-width="1.2"/>
<text x="329.80" y="195.20" font-size="10.4" text-anchor="middle" font-weight="bold" >0.48</text>
<line x1="362.55" y1="183.20" x2="362.55" y2="185.20" stroke="#000" stroke-width="1.2"/>
<text x="362.55" y="195.20" font-size="10.4" text-anchor="middle" font-weight="bold" >0.50</text>
<line x1="395.30" y1="183.20" x2="395.30" y2="185.20" stroke="#000" stroke-width="1.2"/>
<text x="395.30" y="195.20" font-size="10.4" text-anchor="middle" font-weight="bold" >0.52</text>
<line x1="428.05" y1="183.20" x2="428.05" y2="185.20" stroke="#000" stroke-width="1.2"/>
<text x="428.05" y="195.20" font-size="10.4" text-anchor="middle" font-weight="bold" >0.54</text>
<line x1="460.80" y1="183.20" x2="460.80" y2="185.20" stroke="#000" stroke-width="1.2"/>
<text x="460.80" y="195.20" font-size="10.4" text-anchor="middle" font-weight="bold" >0.56</text>
<line x1="493.55" y1="183.20" x2="493.55" y2="185.20" stroke="#000" stroke-width="1.2"/>
<text x="493.55" y="195.20" font-size="10.4" text-anchor="middle" font-weight="bold" >0.58</text>
<line x1="526.30" y1="183.20" x2="526.30" y2="185.20" stroke="#000" stroke-width="1.2"/>
<text x="526.30" y="195.20" font-size="10.4" text-anchor="middle" font-weight="bold" >0.60</text>
<text y="207.00" font-size="10.3" font-weight="bold"><tspan x="379.60">Potential</tspan><tspan x="422.00" font-weight="normal">(</tspan><tspan x="429.80">V</tspan><tspan x="441.00" font-style="italic" letter-spacing="-0.45">vs.</tspan><tspan x="453.50">RHE</tspan><tspan x="478.20" font-weight="normal">)</tspan></text>
<text transform="translate(300.70,0) rotate(-90)" y="0" font-size="10.3" font-weight="bold"><tspan x="-171.10">Current Density</tspan><tspan x="-89.30" font-weight="normal">(</tspan><tspan x="-83.90">mA cm</tspan><tspan x="-51.60" font-size="6.80" dy="-4.43">-2</tspan><tspan x="-43.80" dy="4.43" font-weight="normal">)</tspan></text>
<line x1="470.80" y1="120.90" x2="490.80" y2="120.90" stroke="#666666" stroke-width="1.3"/>
<text x="492.20" y="123.80" font-size="8.5" font-weight="bold">10mV s<tspan font-size="5.10" dy="-3.40">-1</tspan></text>
<line x1="470.80" y1="132.60" x2="490.80" y2="132.60" stroke="#EE5E6A" stroke-width="1.3"/>
<text x="492.20" y="135.50" font-size="8.5" font-weight="bold">20mV s<tspan font-size="5.10" dy="-3.40">-1</tspan></text>
<line x1="470.80" y1="144.10" x2="490.80" y2="144.10" stroke="#3A78D6" stroke-width="1.3"/>
<text x="492.20" y="147.00" font-size="8.5" font-weight="bold">30mV s<tspan font-size="5.10" dy="-3.40">-1</tspan></text>
<line x1="470.80" y1="155.30" x2="490.80" y2="155.30" stroke="#40B283" stroke-width="1.3"/>
<text x="492.20" y="158.20" font-size="8.5" font-weight="bold">40mV s<tspan font-size="5.10" dy="-3.40">-1</tspan></text>
<line x1="470.80" y1="167.00" x2="490.80" y2="167.00" stroke="#B277EE" stroke-width="1.3"/>
<text x="492.20" y="169.90" font-size="8.5" font-weight="bold">50mV s<tspan font-size="5.10" dy="-3.40">-1</tspan></text>
<line x1="470.80" y1="178.60" x2="490.80" y2="178.60" stroke="#DAAD34" stroke-width="1.3"/>
<text x="492.20" y="181.50" font-size="8.5" font-weight="bold">60mV s<tspan font-size="5.10" dy="-3.40">-1</tspan></text>
<text x="13.4" y="225.9" font-size="22" font-weight="normal">(c)</text>
<path d="M56.9,323.4l0.5,-1.8 0.4,-1.9 0.5,-1.8 0.5,-1.8 0.6,-1.7 0.7,-1.8 0.8,-1.6 0.8,-1.6 1,-1.5 1.1,-1.4 1.1,-1.3 1.3,-1.2 1.4,-1 1.6,-0.9 1.8,-0.6 1.9,-0.5 2.1,-0.5 1.5,-0.3 1.6,-0.2 1.7,-0.1 1.9,-0.1 1.8,-0.1 1.9,-0.1 2,-0.1 1.9,-0.1 2,-0.1 1.7,-0.1 1.8,-0.2 1.7,-0.1 1.8,-0.1 1.8,-0.1 1.8,-0.2 1.8,-0.1 1.9,-0.1 2,-0.2 1.9,-0.1 2,-0.1 2.1,-0.1 1.7,-0.1 1.8,0 1.7,-0.1 1.9,-0.1 1.8,0 1.9,-0.1 2,0 1.9,-0.1 2,0 1.9,-0.1 2,0 2,0 2,-0.1 2,0 2,-0.1 2,0 1.9,-0.1 2,0 1.9,-0.1 1.9,-0.1 1.9,0 2,-0.1 1.9,-0.1 1.9,0 1.9,-0.1 2,-0.1 1.9,-0.1 1.9,0 1.9,-0.1 1.9,-0.1 2,-0.1 1.9,0 1.9,-0.1 1.9,-0.1 1.9,-0.1 1.9,-0.1 1.9,0 1.9,-0.1 2,-0.1 2.1,-0.1 2.1,0 2.2,-0.1 2.2,-0.1 2.3,-0.1 2.2,-0.1 2.2,-0.1 2.2,-0.1 2.1,-0.1 2.1,-0.1 1.9,0 1.9,-0.1 1.7,-0.1 1.6,0 1.4,-0.1 1.3,0 1,0 2.1,-0.1 1.5,0.2 1,0.5 0.7,0.8 0.2,0.9 0,1.1 -0.2,1.4 -0.5,1.7 -0.5,1.8 -0.7,1.7 -0.7,1.7 -0.8,1.6 -1,1.6 -1.1,1.5 -1.2,1.2 -1.3,1.2 -1.5,1.1 -1.6,1 -1.7,0.9 -1.6,0.6 -1.7,0.5 -1.8,0.4 -1.8,0.3 -1.9,0.3 -2,0.2 -1.9,0.2 -1.9,0.2 -1.9,0 -2,0.1 -2.1,0 -2,-0.1 -1.9,0 -1.9,0 -1.7,0.1 -1.9,0.1 -1.8,0.2 -1.7,0.1 -1.7,0.2 -2,0.2 -1.6,0.1 -1.6,0.2 -1.8,0.1 -1.8,0.2 -1.9,0.1 -1.9,0.2 -1.9,0.1 -2,0.2 -1.9,0.1 -1.8,0.1 -1.8,0.1 -1.7,0.1 -1.7,0.1 -1.7,0 -1.8,0.1 -1.7,0 -1.8,0.1 -1.9,0.1 -2,0 -2.1,0.1 -1.6,0.1 -1.6,0 -1.7,0.1 -1.7,0 -1.8,0.1 -1.9,0 -1.8,0.1 -2,0 -1.9,0.1 -2,0 -2,0.1 -2,0.1 -2,0 -2,0.1 -2,0 -2.1,0.1 -2,0.1 -2,0 -2,0.1 -2,0 -1.9,0.1 -1.9,0.1 -1.9,0 -1.9,0.1 -1.9,0.1 -1.9,0 -2,0.1 -1.9,0.1 -1.9,0 -1.9,0.1 -1.9,0.1 -2,0 -1.9,0.1 -1.9,0.1 -2,0 -1.9,0.1 -1.9,0.1 -2,0.1 -1.9,0 -1.9,0.1 -2,0.1 -1.9,0 -1.9,0.1" fill="none" stroke="#666666" stroke-width="1.1" stroke-linejoin="round"/>
<path d="M60.6,304l0.6,-1.4 0.6,-1.3 0.7,-1.3 0.9,-1.4 1.1,-1.2 1.2,-1.1 1.3,-1.1 1.1,-0.8 1.1,-0.8 1.3,-0.7 1.7,-0.8 1.8,-0.7 2,-0.6 1.6,-0.4 1.7,-0.4 1.8,-0.4 1.9,-0.3 2,-0.3 1.6,-0.2 1.7,-0.3 1.7,-0.2 1.7,-0.2 1.9,-0.2 1.9,-0.2 2.2,-0.2 2.3,-0.2 1.4,-0.1 1.5,-0.1 1.6,-0.2 1.7,-0.1 1.7,-0.1 1.8,-0.2 1.9,-0.1 1.9,-0.1 2,-0.1 2,-0.2 2,-0.1 2.1,-0.1 2.1,-0.2 2.1,-0.1 2.1,-0.1 2.1,-0.1 2.1,-0.2 2.1,-0.1 2.1,-0.1 2.1,-0.1 2,-0.2 2,-0.1 2,-0.1 1.9,-0.1 1.9,-0.1 1.8,-0.1 2.1,-0.1 2,-0.1 2,-0.1 2,-0.1 1.9,-0.1 2,-0.1 1.9,-0.1 1.9,-0.1 1.9,-0.1 1.9,-0.1 1.8,-0.1 1.9,-0.1 1.9,-0.1 1.8,0 1.9,-0.1 1.9,-0.1 1.8,-0.1 1.9,-0.1 1.9,-0.1 2,-0.1 2.1,-0.1 2.1,-0.1 2.2,-0.2 2.2,-0.1 2.3,-0.1 2.2,-0.1 2.2,-0.2 2.2,-0.1 2.1,-0.1 2.1,-0.1 1.9,-0.1 1.9,-0.1 1.7,-0.1 1.6,-0.1 1.4,0 1.3,-0.1 1,0 2.1,-0.1 1.5,0.2 1,0.6 0.7,0.8 0.3,1.3 -0.1,1.7 -0.1,1.3 -0.3,1.6 -0.3,1.8 -0.3,1.8 -0.5,1.8 -0.4,1.7 -0.5,1.7 -0.4,1.7 -0.6,1.7 -0.6,1.7 -0.7,1.6 -0.8,1.6 -1,1.5 -1.1,1.4 -1.2,1.4 -1.3,1.3 -1.4,1.3 -1.3,1.3 -1.4,1.3 -1.5,1.3 -1.5,1.3 -1.5,1.2 -1.6,1.2 -1.6,1 -1.6,0.9 -1.6,0.8 -1.7,0.8 -1.7,0.7 -1.7,0.6 -1.7,0.6 -1.8,0.5 -1.8,0.4 -1.8,0.4 -1.8,0.3 -1.9,0.3 -1.8,0.3 -1.8,0.3 -1.8,0.3 -1.8,0.3 -1.9,0.2 -1.8,0.3 -1.8,0.2 -1.8,0.2 -1.8,0.2 -1.8,0.2 -1.9,0.2 -1.8,0.1 -1.8,0.2 -1.8,0.2 -1.8,0.2 -1.8,0.2 -1.9,0.1 -1.8,0.2 -1.8,0.2 -1.7,0.2 -1.7,0.2 -1.6,0.1 -1.8,0.2 -1.9,0.2 -2.2,0.2 -1.4,0.1 -1.4,0.1 -1.6,0.1 -1.6,0.2 -1.8,0.1 -1.8,0.1 -1.8,0.1 -2,0.1 -1.9,0.2 -2.1,0.1 -2,0.1 -2.1,0.1 -2.1,0.2 -2.1,0.1 -2.1,0.1 -2.1,0.1 -2.1,0.1 -2,0.2 -2.1,0.1 -2,0.1 -1.9,0.1 -2,0.1 -1.9,0.1 -2,0.1 -1.9,0.1 -2,0.1 -2,0.1 -1.9,0.1 -2,0.1 -2,0.1 -2,0.1 -1.9,0.1 -2,0.1 -2,0.1 -2,0.1 -2,0.1 -1.9,0.1 -2,0.1 -2,0.1 -2,0.1 -1.9,0.1 -2,0.1" fill="none" stroke="#EE5E6A" stroke-width="1.1" stroke-linejoin="round"/>
<path d="M56.9,310.8l0.5,-1.3 0.5,-1.4 0.6,-1.3 0.6,-1.2 0.6,-1.2 0.6,-1.2 0.8,-1.4 0.9,-1.5 1,-1.5 0.9,-1.3 1,-1.2 1,-1.3 1.1,-1.2 1.2,-1.2 1.2,-1.2 1.3,-1.1 1.3,-1.1 1.4,-1 1.5,-1 1.5,-0.9 1.6,-0.9 1.7,-0.8 1.7,-0.8 1.7,-0.8 1.9,-0.7 1.6,-0.6 1.6,-0.5 1.7,-0.6 1.8,-0.5 1.8,-0.5 2,-0.5 1.6,-0.3 1.6,-0.3 1.7,-0.3 1.7,-0.3 1.7,-0.3 1.9,-0.2 1.8,-0.3 2,-0.2 2,-0.3 2.1,-0.2 1.6,-0.2 1.7,-0.2 1.7,-0.2 1.8,-0.1 1.9,-0.2 1.9,-0.2 1.9,-0.2 1.9,-0.1 2,-0.2 2,-0.2 2,-0.1 2,-0.2 2.1,-0.2 2,-0.1 2,-0.2 2,-0.1 2,-0.2 2,-0.1 1.9,-0.2 1.9,-0.2 1.9,-0.1 2,-0.2 1.9,-0.1 1.9,-0.1 1.9,-0.2 2,-0.1 1.9,-0.2 1.9,-0.1 1.9,-0.1 1.9,-0.2 2,-0.1 1.9,-0.2 1.9,-0.1 1.9,-0.1 1.9,-0.2 1.9,-0.1 1.9,-0.2 1.9,-0.1 2,-0.2 2.1,-0.1 2.1,-0.2 2.2,-0.2 2.2,-0.2 2.3,-0.2 2.2,-0.2 2.2,-0.2 2.2,-0.2 2.1,-0.2 2.1,-0.1 1.9,-0.2 1.9,-0.2 1.7,-0.1 1.6,-0.1 1.4,-0.1 1.3,-0.1 1,0 2.1,-0.1 1.5,0.2 1,0.5 0.7,0.7 0.1,1 -0.3,1.4 -0.2,1.3 -0.3,1.6 -0.3,1.9 -0.3,1.9 -0.5,2.1 -0.4,2 -0.4,1.9 -0.4,1.8 -0.5,1.9 -0.4,1.8 -0.5,1.8 -0.6,1.8 -0.5,1.8 -0.7,1.8 -0.7,1.6 -0.7,1.7 -0.7,1.7 -0.8,1.6 -0.8,1.6 -0.9,1.6 -0.9,1.5 -0.9,1.4 -1.1,1.5 -1.2,1.5 -1.3,1.4 -1.2,1.3 -1.3,1.2 -1.1,1.1 -1.2,1.1 -1.1,1.1 -1.1,0.9 -1.2,0.9 -1.7,1 -1.7,1 -1.7,0.9 -1.3,0.8 -1.3,0.8 -1.4,0.8 -1.4,0.8 -1.4,0.7 -1.5,0.7 -1.5,0.6 -1.6,0.7 -1.7,0.6 -1.7,0.7 -1.8,0.6 -1.8,0.7 -1.9,0.6 -1.9,0.6 -1.8,0.6 -1.8,0.5 -1.8,0.5 -1.8,0.4 -1.9,0.5 -1.8,0.4 -1.8,0.4 -1.8,0.4 -1.8,0.4 -1.8,0.4 -1.9,0.3 -1.8,0.4 -1.8,0.3 -1.7,0.3 -1.7,0.3 -1.6,0.3 -1.8,0.3 -1.9,0.2 -2.2,0.3 -1.4,0.2 -1.4,0.1 -1.6,0.2 -1.6,0.1 -1.8,0.2 -1.8,0.1 -1.8,0.2 -2,0.1 -1.9,0.2 -2.1,0.1 -2,0.2 -2.1,0.2 -2.1,0.1 -2.1,0.2 -2.1,0.1 -2.1,0.2 -2.1,0.1 -2,0.2 -2.1,0.1 -2,0.2 -1.9,0.1 -2,0.1 -1.9,0.2 -2,0.1 -1.9,0.2 -2,0.1 -2,0.2 -1.9,0.1 -2,0.1 -2,0.2 -2,0.1 -1.9,0.1 -2,0.2 -2,0.1 -2,0.1 -2,0.2 -1.9,0.1 -2,0.2 -2,0.1 -2,0.1 -1.9,0.2 -2,0.1" fill="none" stroke="#3A78D6" stroke-width="1.1" stroke-linejoin="round"/>
<path d="M56.9,357l0.4,-1.8 0.4,-1.9 0.4,-1.8 0.4,-1.9 0.4,-1.8 0.4,-1.8 0.5,-1.9 0.4,-1.8 0.5,-1.9 0.4,-1.8 0.5,-1.9 0.5,-1.8 0.5,-1.9 0.6,-1.8 0.5,-1.9 0.6,-1.8 0.6,-1.9 0.7,-1.8 0.7,-1.9 0.7,-1.9 0.7,-1.9 0.7,-1.8 0.8,-1.8 0.8,-1.7 0.9,-1.8 0.8,-1.7 0.9,-1.7 1,-1.6 0.9,-1.6 1,-1.6 1.1,-1.5 1.1,-1.4 1.1,-1.4 1.2,-1.3 1.2,-1.3 1.2,-1.3 1.2,-1.2 1.2,-1.1 1.4,-1.3 1.3,-1.1 1.3,-1.1 1.3,-1.1 1.2,-1.1 1,-1.2 0.9,-1.2 1,-1.2 1.3,-1.2 1.3,-0.8 1.4,-0.8 1.7,-0.8 1.8,-0.7 2,-0.8 2,-0.7 2,-0.7 2,-0.7 2,-0.7 1.9,-0.6 1.8,-0.6 1.8,-0.6 1.8,-0.6 1.8,-0.6 1.9,-0.6 1.8,-0.5 1.8,-0.6 1.8,-0.4 1.9,-0.5 1.8,-0.4 1.8,-0.4 1.7,-0.3 1.7,-0.2 1.8,-0.2 1.7,-0.2 1.8,-0.2 1.8,-0.2 1.9,-0.2 1.9,-0.2 2.1,-0.2 1.6,-0.2 1.7,-0.1 1.8,-0.2 1.8,-0.2 1.8,-0.1 1.9,-0.2 1.9,-0.1 2,-0.2 2,-0.1 2,-0.2 2,-0.2 2,-0.1 2.1,-0.2 2,-0.1 2,-0.2 2,-0.2 1.9,-0.1 2,-0.2 1.9,-0.2 2,-0.2 2.1,-0.2 2.1,-0.2 2.2,-0.3 2.2,-0.2 2.3,-0.3 2.2,-0.2 2.2,-0.3 2.2,-0.2 2.1,-0.3 2.1,-0.2 1.9,-0.2 1.9,-0.2 1.7,-0.2 1.6,-0.1 1.4,-0.2 1.3,0 1,-0.1 2.1,-0.1 1.5,0.2 0.9,0.5 0.6,0.8 -0.1,1.1 -0.4,1.5 -0.2,1.3 -0.3,1.5 -0.3,1.8 -0.4,1.9 -0.4,2.1 -0.4,2 -0.4,2 -0.4,1.9 -0.4,1.8 -0.5,1.9 -0.4,1.8 -0.5,1.9 -0.5,1.8 -0.5,1.9 -0.6,1.7 -0.6,1.8 -0.6,1.7 -0.7,1.6 -0.7,1.6 -0.8,1.6 -0.7,1.5 -0.8,1.6 -0.8,1.5 -0.9,1.6 -0.9,1.7 -1,1.7 -1.1,1.7 -1.1,1.7 -1.1,1.6 -1,1.6 -1,1.4 -1,1.3 -1.2,1.4 -1.1,1.3 -1.1,1 -1.1,1.1 -1.1,1 -1.1,1 -1.1,1.1 -1,1.2 -1,1.3 -1.1,1.4 -1.1,1.4 -1.2,1.3 -1.4,1.2 -1.4,1.1 -1.6,1.1 -1.6,1 -1.7,1 -1.7,0.8 -1.7,0.8 -1.9,0.8 -1.9,0.7 -1.8,0.6 -1.9,0.7 -1.8,0.6 -1.8,0.6 -1.8,0.6 -1.9,0.5 -1.8,0.5 -1.8,0.5 -1.8,0.5 -1.8,0.5 -1.8,0.4 -1.9,0.5 -1.8,0.4 -1.8,0.4 -1.7,0.4 -1.7,0.4 -1.6,0.3 -1.7,0.4 -2,0.4 -2.2,0.3 -1.4,0.2 -1.4,0.2 -1.6,0.1 -1.6,0.2 -1.8,0.2 -1.8,0.1 -1.9,0.2 -1.9,0.1 -2,0.2 -2,0.2 -2,0.1 -2.1,0.2 -2.1,0.1 -2.1,0.2 -2.1,0.1 -2.1,0.2 -2.1,0.1 -2.1,0.2 -2,0.2 -2,0.1 -1.9,0.2 -1.9,0.2 -2,0.2 -1.9,0.1 -1.9,0.2 -1.9,0.2 -2,0.2 -1.9,0.2 -1.9,0.2 -2,0.1 -1.9,0.2 -1.9,0.2 -2,0.2 -1.9,0.2 -2,0.2 -1.9,0.2 -1.9,0.2 -2,0.2 -1.9,0.1 -1.9,0.2 -2,0.2 -1.9,0.2" fill="none" stroke="#40B283" stroke-width="1.1" stroke-linejoin="round"/>
<path d="M56.9,367.7l0.5,-1.7 0.4,-1.8 0.5,-1.7 0.4,-1.8 0.5,-1.7 0.4,-1.7 0.5,-1.8 0.4,-1.7 0.5,-1.7 0.5,-1.9 0.5,-1.8 0.5,-1.9 0.5,-1.8 0.5,-1.9 0.5,-1.8 0.5,-1.8 0.6,-1.8 0.6,-1.9 0.7,-1.9 0.7,-1.8 0.7,-1.9 0.7,-1.8 0.7,-1.9 0.8,-1.9 0.7,-1.6 0.6,-1.7 0.7,-1.7 0.7,-1.7 0.7,-1.7 0.8,-1.6 0.8,-1.7 0.8,-1.6 0.8,-1.5 0.9,-1.6 1,-1.5 1.1,-1.5 1,-1.4 1.1,-1.4 1.1,-1.4 1,-1.4 1,-1.3 1.1,-1.4 1.1,-1.4 1,-1.3 1.1,-1.3 1,-1.4 1.2,-1.4 1.1,-1.4 1,-1.4 1.1,-1.5 1.1,-1.5 1.1,-1.6 1.3,-1.4 1.4,-1.5 1.5,-1.3 1.3,-1 1.4,-0.9 1.5,-1 1.6,-0.9 1.7,-0.8 1.7,-0.9 1.7,-0.8 1.8,-0.8 1.8,-0.8 1.8,-0.7 1.9,-0.8 1.8,-0.8 1.8,-0.7 1.7,-0.7 1.7,-0.7 1.7,-0.7 1.8,-0.6 1.7,-0.7 1.8,-0.6 1.8,-0.6 1.8,-0.6 1.9,-0.6 1.8,-0.6 1.9,-0.5 1.9,-0.6 1.9,-0.5 1.9,-0.5 2,-0.4 1.8,-0.4 1.8,-0.3 1.8,-0.3 1.9,-0.3 1.9,-0.3 1.9,-0.2 1.9,-0.2 2,-0.2 1.9,-0.2 2,-0.2 1.9,-0.2 2,-0.1 2,-0.2 1.9,-0.2 2,-0.2 1.9,-0.2 2,-0.2 1.9,-0.2 1.9,-0.2 2,-0.3 2.1,-0.2 2.1,-0.3 2.2,-0.3 2.2,-0.4 2.3,-0.3 2.2,-0.3 2.2,-0.3 2.2,-0.3 2.1,-0.3 2.1,-0.3 1.9,-0.3 1.9,-0.2 1.7,-0.3 1.6,-0.2 1.4,-0.1 1.3,-0.1 1,-0.1 2.2,-0.1 1.4,0.2 0.8,0.3 0.5,0.6 0,1.1 -0.3,1.5 -0.5,1.8 -0.5,1.9 -0.2,1.4 -0.3,1.7 -0.2,1.7 -0.2,1.9 -0.3,2 -0.2,1.9 -0.3,2 -0.3,2 -0.3,1.8 -0.4,1.8 -0.5,1.9 -0.5,1.9 -0.5,1.8 -0.5,1.8 -0.6,1.8 -0.6,1.8 -0.7,1.8 -0.6,1.7 -0.7,1.9 -0.7,1.8 -0.8,1.9 -0.8,1.8 -0.8,1.8 -0.8,1.8 -0.9,1.8 -0.8,1.6 -1,1.7 -0.9,1.7 -1,1.6 -0.9,1.7 -1,1.5 -0.9,1.5 -0.8,1.4 -1.1,1.8 -1,1.6 -0.9,1.6 -1,1.5 -0.9,1.4 -0.9,1.4 -1,1.4 -1,1.4 -1,1.4 -1,1.5 -1,1.4 -1.2,1.5 -1.2,1.3 -1.4,1.3 -1.4,1.2 -1.6,1.2 -1.6,1.1 -1.7,1.2 -1.4,1 -1.5,0.9 -1.6,1 -1.6,0.9 -1.6,1 -1.6,0.9 -1.6,0.8 -1.8,0.9 -1.8,0.9 -1.8,0.8 -1.8,0.8 -1.9,0.8 -1.8,0.7 -1.8,0.7 -1.8,0.7 -1.8,0.6 -1.8,0.6 -1.9,0.6 -1.8,0.6 -1.7,0.5 -1.7,0.5 -1.6,0.5 -1.7,0.4 -2,0.4 -2.2,0.5 -1.4,0.3 -1.4,0.2 -1.6,0.3 -1.6,0.2 -1.8,0.3 -1.8,0.2 -1.8,0.3 -2,0.2 -2,0.3 -2,0.2 -2,0.3 -2.1,0.3 -2.1,0.2 -2.1,0.3 -2.1,0.2 -2.1,0.3 -2.1,0.2 -2,0.3 -2.1,0.2 -2,0.3 -1.9,0.2 -1.9,0.2 -2,0.3 -1.9,0.2 -1.9,0.3 -1.9,0.2 -2,0.3 -1.9,0.2 -1.9,0.2 -2,0.3 -1.9,0.2 -1.9,0.2 -2,0.3 -1.9,0.2 -2,0.2 -1.9,0.3 -1.9,0.2 -2,0.3 -1.9,0.2 -1.9,0.2 -2,0.3 -1.9,0.2" fill="none" stroke="#B277EE" stroke-width="1.1" stroke-linejoin="round"/>
<path d="M56.9,376.7l0.5,-1.8 0.5,-1.9 0.5,-1.8 0.6,-1.8 0.5,-1.8 0.5,-1.9 0.5,-1.8 0.5,-1.9 0.5,-1.8 0.4,-1.8 0.5,-1.8 0.4,-1.8 0.4,-1.9 0.5,-1.8 0.4,-1.8 0.5,-1.9 0.5,-1.8 0.5,-1.8 0.5,-1.9 0.5,-1.8 0.5,-1.8 0.6,-1.8 0.5,-1.9 0.6,-1.8 0.6,-1.8 0.6,-1.8 0.7,-1.8 0.6,-1.9 0.7,-1.8 0.7,-1.9 0.8,-1.8 0.7,-1.8 0.8,-1.8 0.8,-1.8 0.8,-1.8 0.8,-1.7 0.9,-1.7 0.9,-1.8 0.9,-1.7 1,-1.7 0.9,-1.6 1,-1.6 0.9,-1.5 0.9,-1.5 1.1,-1.6 1,-1.5 1.1,-1.5 1,-1.4 1.1,-1.4 1.2,-1.6 1.1,-1.5 1,-1.5 1.1,-1.6 1.1,-1.6 1.1,-1.7 1.3,-1.6 1.4,-1.6 1.5,-1.5 1.2,-1.1 1.3,-1.1 1.4,-1.1 1.4,-1.1 1.5,-1.1 1.6,-1.1 1.6,-1.1 1.6,-1.1 1.7,-1 1.7,-1 1.7,-1 1.7,-1 1.7,-0.9 1.7,-0.9 1.7,-0.9 1.7,-0.8 1.7,-0.8 1.7,-0.8 1.8,-0.7 1.8,-0.7 1.8,-0.8 1.8,-0.6 1.8,-0.7 1.9,-0.7 1.9,-0.6 1.9,-0.6 1.9,-0.6 1.9,-0.5 2,-0.6 1.8,-0.5 1.8,-0.4 1.8,-0.4 1.9,-0.4 1.9,-0.4 1.9,-0.4 1.9,-0.3 1.9,-0.3 2,-0.3 2,-0.3 1.9,-0.3 2,-0.3 2,-0.3 1.9,-0.3 2,-0.3 1.9,-0.3 2,-0.3 1.9,-0.3 1.9,-0.3 2,-0.3 2.1,-0.4 2.1,-0.4 2.2,-0.3 2.3,-0.4 2.2,-0.4 2.3,-0.4 2.2,-0.4 2.2,-0.4 2.2,-0.3 2,-0.3 2,-0.4 1.8,-0.2 1.7,-0.3 1.6,-0.2 1.4,-0.2 1.2,-0.1 1,-0.1 1.8,-0.1 1.3,0.2 0.9,0.3 0.6,0.7 0.2,1 -0.1,1.5 -0.3,1.8 -0.4,2 -0.5,2.1 -0.4,2.2 -0.4,2 -0.2,1.7 -0.3,1.8 -0.2,1.8 -0.3,1.8 -0.2,1.9 -0.3,1.9 -0.3,1.9 -0.3,1.8 -0.3,1.9 -0.3,1.7 -0.4,1.9 -0.4,1.9 -0.4,1.8 -0.4,1.8 -0.4,1.8 -0.5,1.8 -0.5,1.8 -0.6,1.7 -0.7,1.9 -0.7,1.8 -0.8,1.8 -0.8,1.8 -0.9,1.8 -0.8,1.8 -0.8,1.8 -0.8,1.9 -0.7,1.8 -0.8,1.9 -0.8,1.9 -0.7,1.9 -0.8,1.7 -0.8,1.7 -0.9,1.8 -0.9,1.8 -0.9,1.6 -0.9,1.6 -1,1.6 -1,1.4 -1,1.3 -1,1.3 -1.1,1.3 -1,1.4 -1.1,1.5 -1,1.6 -1,1.5 -1.1,1.6 -1.2,1.5 -1.1,1.3 -1.3,1.3 -1.2,1.2 -1.3,1.3 -1.4,1.2 -1.4,1.3 -1.4,1.3 -1.5,1.2 -1.6,1.3 -1.6,1.3 -1.6,1.2 -1.6,1.3 -1.6,1.1 -1.5,1 -1.6,1.1 -1.5,0.9 -1.6,1 -1.5,0.9 -1.6,0.9 -1.6,0.8 -1.8,0.9 -1.8,0.9 -1.8,0.8 -1.8,0.8 -1.9,0.8 -1.8,0.7 -1.7,0.6 -1.7,0.6 -1.6,0.5 -1.7,0.5 -2,0.6 -2.2,0.5 -1.4,0.3 -1.4,0.3 -1.6,0.3 -1.6,0.3 -1.8,0.4 -1.8,0.3 -1.8,0.3 -1.9,0.3 -2,0.4 -2,0.3 -2.1,0.3 -2.1,0.4 -2.1,0.3 -2.1,0.3 -2.1,0.3 -2.1,0.3 -2.1,0.4 -2,0.3 -2.1,0.3 -2,0.3 -1.9,0.3 -2,0.3 -1.9,0.3 -2,0.3 -1.9,0.3 -2,0.3 -2,0.3 -1.9,0.3 -2,0.2 -2,0.3 -2,0.3 -1.9,0.3 -2,0.3 -2,0.3 -2,0.2 -1.9,0.3 -2,0.3 -2,0.3 -2,0.2 -2,0.3 -1.9,0.3 -2,0.3" fill="none" stroke="#DAAD34" stroke-width="1.1" stroke-linejoin="round"/>
<rect x="52.00" y="235.90" width="198.70" height="159.90" fill="none" stroke="#000" stroke-width="1.6"/>
<line x1="50.00" y1="244.50" x2="52.00" y2="244.50" stroke="#000" stroke-width="1.2"/>
<text x="49.30" y="247.90" font-size="10.4" text-anchor="end" font-weight="bold" >0.3</text>
<line x1="50.00" y1="266.10" x2="52.00" y2="266.10" stroke="#000" stroke-width="1.2"/>
<text x="49.30" y="269.50" font-size="10.4" text-anchor="end" font-weight="bold" >0.2</text>
<line x1="50.00" y1="287.70" x2="52.00" y2="287.70" stroke="#000" stroke-width="1.2"/>
<text x="49.30" y="291.10" font-size="10.4" text-anchor="end" font-weight="bold" >0.1</text>
<line x1="50.00" y1="309.30" x2="52.00" y2="309.30" stroke="#000" stroke-width="1.2"/>
<text x="49.30" y="312.70" font-size="10.4" text-anchor="end" font-weight="bold" >0.0</text>
<line x1="50.00" y1="330.90" x2="52.00" y2="330.90" stroke="#000" stroke-width="1.2"/>
<text x="49.30" y="334.30" font-size="10.4" text-anchor="end" font-weight="bold" >-0.1</text>
<line x1="50.00" y1="352.50" x2="52.00" y2="352.50" stroke="#000" stroke-width="1.2"/>
<text x="49.30" y="355.90" font-size="10.4" text-anchor="end" font-weight="bold" >-0.2</text>
<line x1="50.00" y1="374.10" x2="52.00" y2="374.10" stroke="#000" stroke-width="1.2"/>
<text x="49.30" y="377.50" font-size="10.4" text-anchor="end" font-weight="bold" >-0.3</text>
<line x1="50.00" y1="395.70" x2="52.00" y2="395.70" stroke="#000" stroke-width="1.2"/>
<text x="49.30" y="399.10" font-size="10.4" text-anchor="end" font-weight="bold" >-0.4</text>
<line x1="72.50" y1="395.80" x2="72.50" y2="397.80" stroke="#000" stroke-width="1.2"/>
<text x="72.50" y="407.20" font-size="10.4" text-anchor="middle" font-weight="bold" >0.68</text>
<line x1="106.45" y1="395.80" x2="106.45" y2="397.80" stroke="#000" stroke-width="1.2"/>
<text x="106.45" y="407.20" font-size="10.4" text-anchor="middle" font-weight="bold" >0.70</text>
<line x1="140.40" y1="395.80" x2="140.40" y2="397.80" stroke="#000" stroke-width="1.2"/>
<text x="140.40" y="407.20" font-size="10.4" text-anchor="middle" font-weight="bold" >0.72</text>
<line x1="174.35" y1="395.80" x2="174.35" y2="397.80" stroke="#000" stroke-width="1.2"/>
<text x="174.35" y="407.20" font-size="10.4" text-anchor="middle" font-weight="bold" >0.74</text>
<line x1="208.30" y1="395.80" x2="208.30" y2="397.80" stroke="#000" stroke-width="1.2"/>
<text x="208.30" y="407.20" font-size="10.4" text-anchor="middle" font-weight="bold" >0.76</text>
<line x1="242.25" y1="395.80" x2="242.25" y2="397.80" stroke="#000" stroke-width="1.2"/>
<text x="242.25" y="407.20" font-size="10.4" text-anchor="middle" font-weight="bold" >0.78</text>
<text y="418.90" font-size="10.3" font-weight="bold"><tspan x="102.90">Potential</tspan><tspan x="145.30" font-weight="normal">(</tspan><tspan x="153.10">V</tspan><tspan x="164.30" font-style="italic" letter-spacing="-0.45">vs.</tspan><tspan x="176.80">RHE</tspan><tspan x="201.50" font-weight="normal">)</tspan></text>
<text transform="translate(28.80,0) rotate(-90)" y="0" font-size="10.3" font-weight="bold"><tspan x="-384.30">Current Density</tspan><tspan x="-302.50" font-weight="normal">(</tspan><tspan x="-297.10">mA cm</tspan><tspan x="-264.80" font-size="6.80" dy="-4.43">-2</tspan><tspan x="-257.00" dy="4.43" font-weight="normal">)</tspan></text>
<line x1="195.20" y1="332.90" x2="213.80" y2="332.90" stroke="#666666" stroke-width="1.3"/>
<text x="216.30" y="335.80" font-size="8.5" font-weight="bold">10mV s<tspan font-size="5.10" dy="-3.40">-1</tspan></text>
<line x1="195.20" y1="344.60" x2="213.80" y2="344.60" stroke="#EE5E6A" stroke-width="1.3"/>
<text x="216.30" y="347.50" font-size="8.5" font-weight="bold">20mV s<tspan font-size="5.10" dy="-3.40">-1</tspan></text>
<line x1="195.20" y1="356.50" x2="213.80" y2="356.50" stroke="#3A78D6" stroke-width="1.3"/>
<text x="216.30" y="359.40" font-size="8.5" font-weight="bold">30mV s<tspan font-size="5.10" dy="-3.40">-1</tspan></text>
<line x1="195.20" y1="367.90" x2="213.80" y2="367.90" stroke="#40B283" stroke-width="1.3"/>
<text x="216.30" y="370.80" font-size="8.5" font-weight="bold">40mV s<tspan font-size="5.10" dy="-3.40">-1</tspan></text>
<line x1="195.20" y1="379.20" x2="213.80" y2="379.20" stroke="#B277EE" stroke-width="1.3"/>
<text x="216.30" y="382.10" font-size="8.5" font-weight="bold">50mV s<tspan font-size="5.10" dy="-3.40">-1</tspan></text>
<line x1="195.20" y1="390.60" x2="213.80" y2="390.60" stroke="#DAAD34" stroke-width="1.3"/>
<text x="216.30" y="393.50" font-size="8.5" font-weight="bold">60mV s<tspan font-size="5.10" dy="-3.40">-1</tspan></text>
<text x="278.0" y="224.1" font-size="22" font-weight="normal">(d)</text>
<path d="M333.5,327l0,-0.9 0,-0.9 0,-0.9 0,-0.9 0,-0.9 0,-0.9 0,-0.9 0,-0.9 0.1,-0.9 0,-0.9 0,-0.9 0.1,-1 0,-0.9 0.1,-1 0,-0.9 0.1,-0.9 0.1,-0.9 0.1,-0.8 0.1,-0.7 0.2,-1 0.1,-1 0.3,-0.8 0.4,-0.7 0.7,-0.5 0.8,-0.2 1,-0.3 0.7,-0.2 0.7,-0.2 0.8,-0.2 0.8,-0.2 0.9,-0.2 1,-0.1 1,-0.2 1,-0.2 1.1,-0.2 1.1,-0.1 0.8,-0.1 0.7,-0.1 0.9,0 0.8,-0.1 0.8,-0.1 0.9,0 0.9,-0.1 0.9,0 0.9,-0.1 1,0 1,0 0.9,-0.1 1,0 1.1,0 1,-0.1 1.1,0 1,0 1.1,-0.1 1.1,0 1.2,0 1.1,-0.1 1.1,0 1.2,-0.1 1.2,0 0.8,0 0.8,-0.1 0.8,0 0.9,0 0.8,-0.1 0.9,0 0.9,0 0.9,-0.1 0.9,0 0.9,0 0.9,0 1,-0.1 0.9,0 1,0 1,-0.1 1,0 1,0 1,-0.1 1,0 1,0 1,-0.1 1,0 1.1,0 1,-0.1 1,0 1.1,0 1,-0.1 1.1,0 1,0 1.1,-0.1 1.1,0 1,0 1.1,-0.1 1,0 1.1,0 1.1,-0.1 1,0 1.1,0 1,-0.1 1.1,0 1,0 1.1,-0.1 1,0 1.1,0 1,-0.1 1,0 1,0 1,-0.1 1,0 1,0 1,-0.1 1,0 1,0 0.9,-0.1 1,0 1,0 1.1,-0.1 1.1,0 1.1,-0.1 1.1,0 1.2,0 1.1,-0.1 1.2,0 1.2,-0.1 1.2,0 1.2,0 1.2,-0.1 1.2,0 1.2,-0.1 1.2,0 1.2,-0.1 1.2,0 1.2,-0.1 1.2,0 1.2,0 1.2,-0.1 1.1,0 1.2,-0.1 1.1,0 1.1,-0.1 1.1,0 1.1,0 1,-0.1 1.1,0 1,-0.1 1,0 0.9,0 0.9,-0.1 0.9,0 0.9,-0.1 0.8,0 0.8,0 0.7,-0.1 0.7,0 0.7,0 0.6,-0.1 0.5,0 0.6,0 0.4,0 0.4,-0.1 0.4,0 1.2,-0.2 0.7,0 0.5,0.5 0.3,0.7 0.2,1 0,0.6 -0.1,0.8 -0.2,0.8 -0.2,0.9 -0.3,1 -0.3,1.1 -0.3,1 -0.4,1 -0.3,1.1 -0.3,0.9 -0.3,1 -0.2,0.8 -0.2,1 -0.2,1 -0.2,1 -0.2,1 -0.1,0.8 -0.2,0.8 -0.2,0.6 -0.2,0.7 -0.5,0.6 -0.4,0.3 -0.6,0.2 -0.6,0.2 -0.8,0.3 -0.9,0.2 -0.9,0.2 -1,0.2 -1.1,0.2 -1.1,0.2 -1.2,0.2 -1.2,0.2 -1.2,0.2 -1.2,0.1 -1.2,0.2 -0.8,0.1 -0.7,0.1 -0.8,0.1 -0.9,0.1 -0.8,0.1 -0.9,0.1 -0.8,0.1 -0.9,0 -0.9,0.1 -1,0.1 -0.9,0.1 -1,0.1 -0.9,0 -1,0.1 -1,0.1 -1,0 -1,0.1 -1.1,0 -1,0.1 -1,0.1 -1.1,0 -1,0.1 -1.1,0 -1,0.1 -1.1,0 -1,0.1 -1.1,0.1 -1,0 -1.1,0.1 -1,0 -1.1,0.1 -1,0 -1,0.1 -1.1,0 -1,0.1 -1,0 -0.9,0 -1,0.1 -0.9,0 -1,0.1 -0.9,0 -1,0.1 -0.9,0 -1,0 -1,0.1 -0.9,0 -1,0 -0.9,0.1 -1,0 -1,0 -0.9,0 -1,0.1 -1,0 -0.9,0 -1,0.1 -1,0 -1,0 -0.9,0 -1,0.1 -1,0 -1,0 -1,0 -0.9,0 -1,0.1 -1,0 -1,0 -1,0 -1,0.1 -1,0 -1,0 -1,0 -1,0.1 -1,0 -1,0 -1,0 -1,0.1 -1,0 -1,0 -0.9,0.1 -1,0 -1,0 -1,0 -0.9,0.1 -1,0 -1,0 -1,0 -1,0.1 -1,0 -0.9,0 -1,0 -1,0.1 -1,0 -1,0 -1,0 -1,0.1 -1,0 -1,0 -1,0.1 -1,0 -1.1,0 -1,0 -1,0.1 -1,0 -1,0 -1,0 -1,0.1 -1,0 -1,0 -1,0 -1,0.1 -1,0 -1.1,0 -1,0 -1,0.1 -1,0 -1,0 -1,0 -1,0.1 -1,0 -1,0 -1,0 -1,0.1 -1,0" fill="none" stroke="#666666" stroke-width="1.1" stroke-linejoin="round"/>
<path d="M331,333l0,-0.9 0.1,-1 0,-0.9 0,-1 0,-0.9 0,-1 0.1,-1 0,-0.9 0,-1 0,-0.9 0.1,-0.9 0,-1 0,-0.9 0.1,-0.9 0,-0.9 0.1,-0.9 0.1,-1 0.1,-0.9 0,-1 0.1,-1 0.1,-0.9 0.1,-1 0.1,-0.9 0.1,-0.9 0.2,-0.9 0.1,-0.9 0.1,-0.9 0.2,-0.9 0.2,-0.8 0.2,-1 0.3,-1.1 0.3,-1.1 0.3,-1 0.3,-1 0.3,-0.9 0.4,-0.9 0.4,-0.7 0.4,-0.6 0.7,-0.6 0.7,-0.5 0.9,-0.3 0.8,-0.3 0.7,-0.3 0.8,-0.2 0.8,-0.2 0.9,-0.1 1,-0.2 0.6,-0.1 0.8,-0.1 0.7,-0.1 0.8,-0.1 0.9,-0.1 0.9,-0.2 0.9,-0.1 1,0 1,0.1 1,-0.1 1,-0.4 1.1,-0.2 1,0 1.1,0.2 1.1,-0.1 1.1,-0.3 1.1,-0.3 1,0.1 1.1,0.2 0.9,-0.1 0.9,-0.2 0.9,-0.3 0.9,-0.1 0.9,0.1 0.9,0.2 0.9,0 1,-0.2 0.9,-0.3 0.9,-0.1 1,0.2 1,0.1 0.9,-0.1 1,-0.2 1,-0.2 1,0 1,0.2 1,0.1 1,-0.3 1,-0.3 1,0 1,0.2 1,0.1 1.1,-0.2 1,-0.3 1,-0.1 1.1,0.1 1,0.2 0.9,-0.1 0.9,-0.2 1,-0.3 0.9,0 0.9,0.2 1,0.1 0.9,-0.1 0.9,-0.3 1,-0.2 0.9,0 1,0.2 1,0 0.9,-0.2 1,-0.3 1,-0.1 1,0.1 0.9,0.2 1,-0.1 1,-0.3 1,-0.2 1,0 1,0.2 1,0.1 1,-0.3 1,-0.3 1,-0.1 1,0.2 1,0.1 1.1,-0.1 1,-0.3 1,-0.2 1,0.1 1.1,0.2 1,0 1,-0.3 1.1,-0.3 1,0.1 1,0.2 0.9,0 1,-0.2 1.1,-0.3 1,0 1.1,0.2 1.1,0.1 1.2,-0.3 1.1,-0.3 1.2,0.1 1.1,0.2 1.2,0 1.2,-0.3 1.2,-0.2 1.2,0.1 1.2,0.2 1.2,-0.2 1.2,-0.3 1.2,0 1.2,0.2 1.2,0.1 1.2,-0.4 1.2,-0.2 1.2,0.2 1.1,0.2 1.1,-0.2 1.1,-0.3 1.1,-0.1 1.1,0.2 1,0.2 1,-0.2 1,-0.2 1,-0.2 0.9,0 0.9,0.2 0.8,0.1 0.8,-0.1 0.8,-0.2 0.7,-0.2 0.7,0 0.6,0 0.6,0 0.5,0 0.5,0 0.4,0 0.4,-0.1 1.2,-0.3 0.7,0 0.4,0.5 0.3,0.7 0.3,1 0.1,0.7 0.2,0.7 0.1,0.9 0.1,1 0.1,1 0.1,1 0,1.1 0.1,1.1 0,1.1 0.1,1.1 0,1 0,0.9 0.1,0.9 0,1 0,0.9 0,1 0.1,0.9 -0.1,1 0,1 0,0.9 -0.1,0.9 0,0.9 -0.2,0.9 -0.1,0.8 -0.2,1 -0.3,1 -0.3,1 -0.4,1 -0.3,0.9 -0.4,0.9 -0.4,0.8 -0.4,0.7 -0.3,0.7 -0.5,0.7 -0.4,0.6 -0.5,0.6 -0.4,0.6 -0.4,0.8 -0.4,0.8 -0.4,0.9 -0.4,0.9 -0.6,0.7 -0.6,0.6 -0.7,0.5 -0.8,0.5 -0.8,0.4 -1,0.4 -1,0.4 -0.7,0.2 -0.7,0.2 -0.8,0.2 -0.9,0.3 -0.8,0.4 -0.9,0.2 -0.9,0 -1,-0.1 -1,0.3 -1,0.4 -1,0.3 -1.1,0 -1,-0.1 -1.1,0.1 -1.1,0.5 -0.8,0.2 -0.8,0.1 -0.9,-0.1 -0.8,-0.1 -0.9,0.1 -0.9,0.3 -0.9,0.3 -0.9,0.1 -0.9,-0.1 -1,-0.1 -0.9,0.1 -1,0.3 -0.9,0.3 -1,0 -1,-0.2 -1,-0.1 -1,0.2 -1,0.4 -1.1,0.1 -1,-0.2 -1,-0.1 -1.1,0.1 -1,0.4 -1,0.2 -1.1,-0.2 -1,-0.1 -1.1,0.1 -1,0.3 -1.1,0.3 -0.9,-0.1 -0.9,-0.2 -0.9,-0.1 -0.9,0.2 -0.9,0.3 -0.9,0.2 -1,-0.1 -0.9,-0.2 -0.9,0 -1,0.2 -0.9,0.4 -1,0.1 -1,-0.2 -0.9,-0.2 -1,0.1 -1,0.3 -0.9,0.3 -1,0 -1,-0.2 -1,-0.1 -1,0.2 -0.9,0.3 -1,0.1 -1,-0.1 -1,-0.2 -1,0 -1,0.4 -1,0.2 -1,0 -1.1,-0.3 -1,0 -1,0.2 -1,0.4 -1,0 -1,-0.2 -1,-0.1 -1,0.1 -1.1,0.4 -1,0.1 -1,-0.1 -1,-0.2 -1,0 -0.9,0.3 -1,0.3 -1,0 -0.9,-0.2 -1,-0.1 -1,0.1 -1,0.4 -0.9,0.1 -1,-0.1 -1,-0.2 -1,0 -1,0.3 -1,0.3 -1,0 -1,-0.2 -1,-0.1 -1,0.2 -1,0.3 -1,0.1 -1,-0.1 -1,-0.2 -1,0 -1,0.3 -1,0.3 -1,-0.1 -1,-0.2 -1,0 -1,0.2 -1,0.3 -1,0.1 -1,-0.2 -1,-0.2 -1.1,0.2 -1,0.3 -1,0.2 -1,-0.2 -1,-0.2 -1,0.1 -1,0.3 -1,0.2 -1,0 -1,-0.2 -1,0 -1,0.2 -1,0.1 -1,0" fill="none" stroke="#EE5E6A" stroke-width="1.1" stroke-linejoin="round"/>
<path d="M331.2,345l0,-1 0,-0.9 0,-1 0.1,-0.9 0,-1 0,-1 0,-0.9 0,-1 0,-1 0,-0.9 0,-1 0,-0.9 0.1,-1 0,-1 0,-0.9 0,-1 0.1,-0.9 0,-0.9 0,-1 0.1,-0.9 0,-0.9 0,-1 0.1,-1 0,-0.9 0.1,-1 0,-1 0.1,-0.9 0,-1 0.1,-0.9 0.1,-1 0,-0.9 0.1,-1 0.1,-0.9 0.1,-0.9 0.1,-0.9 0.1,-1 0.1,-0.9 0.2,-0.9 0.1,-0.9 0.2,-1 0.1,-1 0.2,-1 0.2,-1 0.1,-1 0.2,-1 0.2,-1 0.2,-1 0.2,-1 0.3,-0.9 0.2,-0.9 0.3,-0.9 0.3,-0.9 0.3,-0.8 0.4,-0.7 0.4,-0.7 0.6,-0.8 0.6,-0.8 0.6,-0.7 0.7,-0.6 0.7,-0.6 0.8,-0.6 0.8,-0.5 0.8,-0.4 0.8,-0.5 0.8,-0.4 0.8,-0.4 0.8,-0.2 0.9,-0.3 0.9,-0.4 0.9,-0.4 0.9,-0.2 1,0.2 1,0 1.1,-0.5 0.8,-0.5 0.8,-0.3 0.9,0.1 0.8,0.2 0.9,0.2 0.9,-0.3 1,-0.5 0.9,-0.3 1,0.1 1,0.4 0.9,0 1,-0.4 1.1,-0.5 1,0 1,0.3 1.1,0.2 1,-0.3 1,-0.5 1.1,-0.2 0.9,0.3 0.9,0.3 0.9,0 0.9,-0.5 0.9,-0.4 1,-0.1 0.9,0.4 1,0.2 0.9,-0.1 1,-0.5 1,-0.3 1,0.1 1,0.4 1,0.1 1,-0.4 1,-0.5 1,-0.1 1,0.4 1,0.3 1,-0.2 1,-0.5 1,-0.3 1,0.2 1,0.4 1,0 0.9,-0.5 1,-0.4 1,0 1,0.3 0.9,0.3 1,-0.2 0.9,-0.5 1,-0.3 0.9,0.1 1,0.4 0.9,0.1 0.9,-0.3 1,-0.5 0.9,-0.2 0.9,0.2 1,0.4 0.9,0 1,-0.4 0.9,-0.5 1,0 0.9,0.3 1,0.3 1,-0.2 1,-0.5 1,-0.3 1,0.1 1,0.4 1.1,0 1,-0.5 1.1,-0.4 1.1,0.1 0.9,0.3 0.9,0.2 1,-0.3 0.9,-0.5 1.1,-0.2 1,0.2 1.1,0.4 1.1,-0.2 1.1,-0.6 1.1,-0.2 1.2,0.3 1.2,0.3 1.1,-0.4 1.2,-0.6 1.2,0.1 1.2,0.4 1.3,-0.1 1.2,-0.6 1.2,-0.3 1.2,0.4 1.2,0.2 1.2,-0.4 1.2,-0.5 1.2,0.1 1.1,0.4 1.2,-0.1 1.1,-0.5 1.1,-0.4 1.1,0.2 1.1,0.4 1,-0.1 1,-0.5 1,-0.4 0.9,0 0.9,0.4 0.9,0.2 0.8,-0.2 0.8,-0.4 0.8,-0.3 0.6,0 0.7,0 0.6,0.1 0.5,0 0.5,0 0.4,-0.1 0.4,-0.1 1.2,-0.3 0.7,0 0.4,0.4 0.3,0.8 0.3,1 0.1,0.5 0.1,0.6 0,0.7 0.1,0.8 0,0.8 0.1,0.9 0,1 0,1 0,1 0,1.1 0,1.1 0,1.1 0,1.2 0,1.1 0,1.2 0,1.1 -0.1,1.1 0,1.1 0,1 0,1.1 -0.1,0.9 0,0.9 0,0.9 0,1 0,1.1 -0.1,0.9 0,1 0,0.9 0,1 0,0.9 -0.1,0.8 0,0.9 -0.1,0.9 -0.1,0.9 -0.1,0.8 -0.1,0.9 -0.2,1 -0.1,0.9 -0.2,1 -0.2,0.9 -0.3,0.9 -0.2,1 -0.3,0.9 -0.2,0.9 -0.3,0.8 -0.2,0.9 -0.3,0.8 -0.3,0.9 -0.3,0.9 -0.3,0.9 -0.4,0.9 -0.3,0.8 -0.4,0.8 -0.3,0.8 -0.4,0.7 -0.4,0.8 -0.5,0.7 -0.4,0.7 -0.5,0.7 -0.5,0.6 -0.6,0.7 -0.6,0.6 -0.6,0.5 -0.6,0.6 -0.7,0.5 -0.7,0.5 -0.8,0.5 -0.8,0.4 -0.8,0.6 -0.8,0.6 -0.7,0.5 -0.9,0.2 -0.8,-0.1 -0.9,0 -0.9,0.5 -0.9,0.7 -1,0.5 -1,0 -1.1,-0.2 -1.1,0.2 -1.1,0.7 -0.8,0.5 -0.7,0.1 -0.8,-0.2 -0.9,-0.2 -0.8,0 -0.9,0.5 -0.9,0.5 -0.9,0.3 -0.9,-0.2 -0.9,-0.3 -1,0 -0.9,0.5 -1,0.6 -1,0.1 -1,-0.3 -1,-0.3 -1.1,0.3 -1,0.7 -1,0.2 -1.1,-0.2 -1,-0.4 -1.1,0.2 -1,0.6 -1.1,0.4 -1.1,-0.2 -1,-0.4 -1.1,0.1 -1,0.6 -1.1,0.4 -0.9,-0.1 -0.9,-0.3 -0.9,-0.2 -0.9,0.3 -0.9,0.6 -0.9,0.3 -1,-0.2 -0.9,-0.4 -0.9,-0.1 -1,0.4 -0.9,0.6 -1,0.2 -0.9,-0.3 -1,-0.4 -1,0.1 -0.9,0.5 -1,0.5 -1,-0.1 -1,-0.4 -0.9,-0.2 -1,0.3 -1,0.6 -1,0.2 -1,-0.3 -1,-0.3 -1,0 -1,0.6 -1,0.4 -1,-0.1 -1,-0.4 -1,-0.1 -1.1,0.4 -1,0.5 -1,0.1 -1,-0.4 -1,-0.2 -1,0.2 -1,0.6 -1.1,0.3 -1,-0.3 -1,-0.4 -0.9,0.1 -1,0.5 -1,0.4 -0.9,0.1 -1,-0.4 -0.9,-0.3 -1,0.3 -1,0.5 -0.9,0.4 -1,-0.2 -1,-0.4 -1,-0.1 -0.9,0.5 -1,0.5 -1,0.1 -1,-0.4 -1,-0.3 -1,0.3 -1,0.5 -1,0.4 -1,-0.3 -1,-0.4 -1,0 -0.9,0.5 -1,0.5 -1,0 -1,-0.4 -1,-0.2 -1,0.3 -1,0.6 -1,0.2 -1.1,-0.3 -1,-0.3 -1,0.1 -1,0.5 -1,0.5 -1,-0.2 -1,-0.4 -1,-0.1 -1,0.4 -1,0.6 -0.9,0.1 -1,-0.3 -1,-0.1 -1,0.2 -1,0.2 -1,0 -1,0.1" fill="none" stroke="#3A78D6" stroke-width="1.1" stroke-linejoin="round"/>
<path d="M331.4,357l0,-1 0,-0.9 0,-1 0,-1 0.1,-1 0,-1 0,-0.9 0,-1 0,-1 0,-1 0,-1 0,-1 0,-1 0,-1 0,-0.9 0,-1 0,-1 0.1,-1 0,-0.9 0,-1 0,-0.9 0,-1 0,-0.9 0.1,-1 0,-0.9 0,-0.9 0.1,-0.9 0,-0.9 0,-1 0.1,-1 0,-1 0.1,-1 0,-1 0.1,-0.9 0,-1 0.1,-0.9 0,-0.9 0.1,-1 0.1,-0.9 0,-0.9 0.1,-0.9 0.1,-1 0.1,-0.9 0,-0.9 0.1,-1 0.1,-0.9 0.2,-1 0.1,-0.9 0.1,-1 0.1,-1 0.2,-0.9 0.1,-1.1 0.1,-1 0.2,-1 0.1,-1.1 0.2,-1 0.1,-1.1 0.2,-1.1 0.1,-1 0.2,-1.1 0.2,-1 0.2,-1.1 0.2,-1 0.2,-1 0.2,-1 0.2,-0.9 0.2,-0.9 0.3,-0.9 0.2,-0.8 0.3,-0.8 0.3,-0.8 0.3,-0.7 0.5,-1 0.4,-0.8 0.5,-0.9 0.5,-0.7 0.5,-0.8 0.6,-0.6 0.6,-0.7 0.6,-0.6 0.6,-0.5 0.7,-0.6 0.8,-0.5 0.7,-0.5 0.9,-0.4 0.8,-0.3 0.9,-0.5 0.9,-0.6 1,-0.3 1,0.2 1,0.1 1.1,-0.7 0.8,-0.8 0.8,-0.4 0.9,0.1 0.8,0.4 0.9,0.1 0.9,-0.4 1,-0.7 0.9,-0.5 1,0.2 0.9,0.5 1,0.1 1,-0.6 1,-0.7 1.1,-0.1 1,0.5 1,0.3 1.1,-0.4 1,-0.8 1.1,-0.2 0.9,0.4 0.9,0.4 0.9,0 0.9,-0.6 0.9,-0.6 1,-0.1 0.9,0.5 1,0.4 0.9,-0.1 1,-0.7 1,-0.4 1,0.2 1,0.6 1,0.1 1,-0.4 1,-0.7 1,-0.1 1,0.5 1,0.5 1,-0.3 1,-0.7 1,-0.3 1,0.3 1,0.5 1,0.1 0.9,-0.6 1,-0.6 1,0 1,0.5 0.9,0.3 1,-0.3 0.9,-0.7 1,-0.4 0.9,0.2 1,0.5 0.9,0.1 0.9,-0.5 1,-0.7 0.9,-0.2 0.9,0.3 1,0.4 0.9,0 1,-0.6 0.9,-0.6 1,-0.1 0.9,0.4 1,0.4 1,-0.3 1,-0.7 1,-0.5 1,0.2 1,0.6 1.1,0 1,-0.7 1.1,-0.7 1.1,0.2 0.9,0.5 0.9,0.2 1,-0.4 0.9,-0.7 1.1,-0.3 1,0.4 1.1,0.5 1.1,-0.3 1.1,-0.8 1.1,-0.3 1.2,0.5 1.2,0.4 1.1,-0.6 1.2,-0.7 1.2,0.1 1.2,0.6 1.3,-0.1 1.2,-0.8 1.2,-0.4 1.2,0.6 1.2,0.3 1.2,-0.6 1.2,-0.7 1.2,0.1 1.1,0.6 1.2,0 1.1,-0.8 1.1,-0.5 1.1,0.4 1.1,0.5 1,-0.1 1,-0.7 1,-0.5 0.9,0.1 0.9,0.5 0.9,0.3 0.8,-0.3 0.8,-0.5 0.8,-0.4 0.6,-0.1 0.7,0.1 0.6,0.1 0.5,0.1 0.5,-0.1 0.4,-0.1 0.4,-0.1 1.2,-0.4 0.7,0 0.4,0.4 0.3,0.8 0.3,1 0.1,0.5 0.1,0.6 0,0.6 0.1,0.8 0,0.7 0,0.9 0.1,0.9 0,1 0,1 0,1 0,1.1 -0.1,1.1 0,1.1 0,1.1 0,1.1 -0.1,1.2 0,1.1 0,1.1 -0.1,1.2 0,1 0,1.1 -0.1,1 0,1 0,1 0,1 0,1 0,1 0,1 0,1 -0.1,1 0,1 0,1 0,0.9 0,1 0,1 0,1 -0.1,0.9 0,1 0,0.9 -0.1,0.9 0,0.9 -0.1,0.9 0,0.9 -0.1,0.9 -0.1,0.8 -0.1,1 -0.1,1 -0.2,1 -0.1,1 -0.2,0.9 -0.2,0.9 -0.1,1 -0.2,0.8 -0.2,0.9 -0.2,0.9 -0.2,0.9 -0.3,0.8 -0.2,0.9 -0.3,0.9 -0.2,0.9 -0.3,0.9 -0.4,0.9 -0.3,0.9 -0.3,0.9 -0.3,0.8 -0.4,0.9 -0.3,0.8 -0.4,0.8 -0.3,0.8 -0.4,0.9 -0.4,1 -0.4,0.9 -0.4,0.8 -0.4,0.9 -0.5,0.8 -0.5,0.9 -0.5,0.8 -0.5,0.8 -0.6,0.7 -0.5,0.8 -0.6,0.7 -0.6,0.6 -0.6,0.7 -0.7,0.8 -0.7,0.9 -0.8,0.9 -0.7,0.5 -0.8,0 -0.8,-0.1 -0.8,0.3 -0.8,0.8 -0.9,1 -0.9,0.6 -0.9,-0.2 -1,-0.3 -1.1,0.2 -1.1,1.1 -0.7,0.6 -0.8,0.2 -0.8,-0.3 -0.8,-0.4 -0.8,-0.1 -0.9,0.5 -0.8,0.8 -0.9,0.4 -0.9,-0.2 -1,-0.6 -0.9,-0.1 -1,0.6 -1,0.7 -1,0.2 -1,-0.5 -1,-0.5 -1.1,0.3 -1,0.9 -1.1,0.4 -1,-0.5 -1.1,-0.5 -1,0.2 -1.1,0.8 -1.1,0.5 -1,-0.4 -1.1,-0.6 -1.1,0.2 -1,0.8 -1.1,0.6 -0.9,-0.3 -0.9,-0.5 -0.9,-0.2 -0.9,0.4 -0.9,0.8 -0.9,0.4 -1,-0.3 -0.9,-0.6 -0.9,-0.1 -1,0.5 -0.9,0.8 -1,0.3 -0.9,-0.5 -1,-0.5 -1,0.1 -0.9,0.7 -1,0.7 -1,-0.1 -1,-0.5 -1,-0.3 -0.9,0.4 -1,0.8 -1,0.4 -1,-0.5 -1,-0.5 -1,0.1 -1,0.8 -1,0.6 -1,-0.2 -1,-0.6 -1,-0.2 -1.1,0.7 -1,0.7 -1,0.2 -1,-0.6 -1,-0.4 -1,0.4 -1,0.8 -1.1,0.4 -1,-0.4 -1,-0.5 -0.9,0 -1,0.7 -1,0.7 -0.9,0 -1,-0.5 -0.9,-0.4 -1,0.4 -1,0.8 -0.9,0.4 -1,-0.3 -1,-0.6 -1,0 -0.9,0.6 -1,0.8 -1,0.1 -1,-0.6 -1,-0.4 -1,0.3 -1,0.9 -1,0.4 -1,-0.3 -1,-0.6 -1,0 -0.9,0.7 -1,0.7 -1,0 -1,-0.6 -1,-0.3 -1,0.5 -1,0.8 -1,0.3 -1.1,-0.4 -1,-0.5 -1,0.1 -1,0.8 -1,0.6 -1,-0.2 -1,-0.6 -1,-0.1 -1,0.6 -1,0.7 -0.9,0.1 -1,-0.4 -1,-0.2 -1,0.3 -1,0.3 -1,0.1 -1,0.1" fill="none" stroke="#40B283" stroke-width="1.1" stroke-linejoin="round"/>
<path d="M331.6,366l0,-1 0,-0.9 0,-1 0,-1 0,-1 0.1,-1 0,-1 0,-1 0,-1 0,-0.9 0,-1 0,-1 0,-1 0,-1 0,-1 0,-1 0,-1 0,-1 0,-0.9 0,-1 0.1,-1 0,-1 0,-0.9 0,-1 0,-0.9 0,-1 0.1,-0.9 0,-0.9 0,-1 0,-0.9 0.1,-0.9 0,-0.9 0,-1 0.1,-1 0,-1 0.1,-1 0,-1 0,-0.9 0.1,-1 0,-0.9 0.1,-1 0,-0.9 0,-1 0.1,-0.9 0.1,-0.9 0,-0.9 0.1,-1 0,-0.9 0.1,-0.9 0.1,-1 0.1,-0.9 0.1,-1 0.1,-1 0.1,-0.9 0.1,-1 0.1,-1 0.1,-0.9 0.1,-1 0.2,-1 0.1,-0.9 0.1,-1 0.2,-1.1 0.1,-1 0.2,-1 0.1,-1.1 0.2,-1 0.1,-1.1 0.2,-1 0.2,-1 0.2,-1.1 0.1,-1 0.2,-1.1 0.2,-1 0.2,-1 0.2,-1 0.2,-0.9 0.2,-1 0.2,-0.9 0.2,-0.9 0.2,-0.9 0.2,-0.9 0.2,-0.8 0.3,-0.8 0.2,-0.8 0.2,-0.7 0.3,-1 0.3,-1 0.4,-1 0.3,-0.9 0.3,-0.9 0.3,-0.8 0.4,-0.8 0.4,-0.8 0.4,-0.7 0.4,-0.8 0.5,-0.6 0.6,-0.7 0.6,-0.7 0.7,-0.6 0.7,-0.6 0.8,-0.4 0.8,-0.5 0.8,-0.8 0.9,-0.7 0.9,-0.3 0.9,0.2 1,0 1,-0.9 0.8,-0.9 0.8,-0.6 0.8,0.1 0.9,0.4 0.9,0.2 0.9,-0.5 0.9,-0.9 1,-0.6 0.9,0.2 1,0.6 1,0.1 1,-0.7 1,-0.9 1.1,-0.1 1,0.6 1,0.4 1.1,-0.6 1,-1 1.1,-0.2 0.9,0.4 0.9,0.5 0.9,0 0.9,-0.7 0.9,-0.8 1,-0.1 0.9,0.5 1,0.6 0.9,-0.3 1,-0.8 1,-0.6 1,0.2 1,0.7 0.9,0.3 1,-0.7 1,-0.8 1,-0.1 1.1,0.6 1,0.5 1,-0.3 1,-0.9 1,-0.5 1,0.4 1,0.7 1,0 0.9,-0.7 1,-0.8 1,0 1,0.7 0.9,0.4 1,-0.4 0.9,-0.8 1,-0.5 0.9,0.3 1,0.6 0.9,0.2 0.9,-0.5 1,-0.8 0.9,-0.4 0.9,0.5 1,0.6 0.9,0 1,-0.7 0.9,-0.7 1,-0.1 0.9,0.5 1,0.5 1,-0.2 1,-0.9 1,-0.6 1,0.4 1,0.7 1.1,0 1,-0.8 1.1,-0.8 1.1,0.2 0.9,0.7 0.9,0.2 1,-0.5 0.9,-0.8 1.1,-0.4 1,0.6 1.1,0.6 1.1,-0.4 1.1,-1 1.1,-0.3 1.2,0.7 1.2,0.4 1.1,-0.6 1.2,-1 1.2,0.2 1.2,0.8 1.3,-0.1 1.2,-1 1.2,-0.5 1.2,0.7 1.2,0.4 1.2,-0.7 1.2,-0.9 1.2,0.2 1.1,0.8 1.2,-0.1 1.1,-0.9 1.1,-0.6 1.1,0.4 1.1,0.6 1,-0.1 1,-0.8 1,-0.7 0.9,0.1 0.9,0.7 0.9,0.3 0.8,-0.3 0.8,-0.6 0.8,-0.5 0.6,-0.1 0.7,0.2 0.6,0.1 0.5,0 0.5,0 0.4,-0.1 0.4,-0.1 1.2,-0.5 0.7,-0.1 0.4,0.4 0.3,0.8 0.3,1 0.1,0.5 0.1,0.6 0,0.6 0.1,0.7 0,0.8 0,0.9 0,0.9 0,0.9 0,1 0,1 0,1.1 -0.1,1.1 0,1.1 0,1.1 -0.1,1.2 0,1.1 -0.1,1.2 0,1.2 0,1.1 -0.1,1.2 0,1.1 -0.1,1.1 0,1.1 0,1.1 0,0.9 0,1 0,0.9 0,1 0,1 0,1 0,1 0,1 0,1.1 -0.1,1 0,1 0,1.1 0,1 0,1.1 0,1 0,1.1 0,1 0,1 0,1 0,1 -0.1,1 0,1 0,0.9 -0.1,1 0,0.9 -0.1,0.9 0,0.9 -0.1,0.8 0,0.8 -0.1,0.8 -0.1,0.8 -0.1,1.1 -0.2,1 -0.1,1 -0.2,1 -0.2,0.9 -0.2,0.9 -0.2,0.8 -0.2,0.9 -0.2,0.8 -0.2,0.9 -0.2,0.9 -0.3,0.9 -0.2,0.9 -0.2,0.9 -0.3,0.9 -0.3,0.9 -0.2,1 -0.3,0.9 -0.3,1 -0.3,0.9 -0.3,1 -0.4,0.9 -0.3,1 -0.3,0.9 -0.3,0.9 -0.3,0.8 -0.3,0.9 -0.3,0.8 -0.3,0.9 -0.4,0.9 -0.3,0.9 -0.3,0.9 -0.3,0.8 -0.4,0.8 -0.3,0.9 -0.4,0.8 -0.4,0.8 -0.4,0.8 -0.4,0.8 -0.5,0.7 -0.4,0.8 -0.5,0.7 -0.4,0.8 -0.5,1 -0.5,1 -0.6,1.1 -0.6,0.9 -0.6,0.6 -0.6,0 -0.7,0 -0.7,0.3 -0.7,0.8 -0.8,1 -0.8,1 -0.8,0.4 -0.9,-0.3 -0.9,-0.4 -1,0.4 -1.1,1.2 -0.7,0.7 -0.7,0.3 -0.8,-0.3 -0.8,-0.6 -0.8,-0.1 -0.8,0.5 -0.9,0.9 -0.9,0.6 -0.9,-0.1 -0.9,-0.7 -1,-0.3 -1,0.5 -1,1 -1,0.4 -1,-0.5 -1,-0.7 -1.1,0.3 -1,1 -1.1,0.6 -1,-0.5 -1.1,-0.8 -1.1,0.2 -1.1,1.1 -1.1,0.6 -1,-0.5 -1.1,-0.7 -1.1,0.2 -1,1 -1.1,0.7 -0.9,-0.3 -0.9,-0.6 -0.9,-0.3 -0.9,0.5 -0.9,1 -0.9,0.5 -1,-0.4 -0.9,-0.6 -0.9,-0.2 -1,0.7 -0.9,0.9 -1,0.3 -0.9,-0.5 -1,-0.6 -1,0.1 -0.9,0.9 -1,0.8 -1,-0.1 -1,-0.7 -1,-0.3 -0.9,0.5 -1,1 -1,0.4 -1,-0.5 -1,-0.6 -1,0.1 -1,1 -1,0.7 -1,-0.2 -1,-0.7 -1,-0.2 -1.1,0.7 -1,1 -1,0.1 -1,-0.6 -1,-0.5 -1,0.4 -1,1 -1.1,0.5 -1,-0.5 -1,-0.7 -0.9,0.1 -1,0.9 -1,0.8 -0.9,0 -1,-0.7 -0.9,-0.5 -1,0.5 -1,0.9 -0.9,0.6 -1,-0.4 -1,-0.7 -1,-0.1 -0.9,0.8 -1,0.9 -1,0.1 -1,-0.7 -1,-0.5 -1,0.4 -1,1 -1,0.5 -1,-0.4 -1,-0.7 -0.9,0 -1,0.8 -1,0.9 -1,-0.1 -1,-0.7 -1,-0.4 -1,0.6 -1,0.9 -1,0.4 -1,-0.5 -1.1,-0.7 -1,0.2 -1,0.9 -1,0.7 -1,-0.2 -1,-0.7 -1,-0.3 -1,0.8 -1,0.9 -0.9,0.1 -1,-0.6 -1,-0.2 -1,0.4 -1,0.3 -1,0.1 -1,0.1" fill="none" stroke="#B277EE" stroke-width="1.1" stroke-linejoin="round"/>
<path d="M331.8,375l0,-1 0,-1 0,-0.9 0,-1 0,-1 0.1,-1 0,-1 0,-1 0,-1 0,-1 0,-1 0,-1 0,-1 0,-1 0,-0.9 0,-1 0,-1 0,-1 0,-1 0,-1 0,-1 0,-1 0.1,-0.9 0,-1 0,-1 0,-1 0,-0.9 0,-1 0,-0.9 0.1,-1 0,-0.9 0,-0.9 0,-1 0,-0.9 0.1,-0.9 0,-0.9 0,-1 0.1,-1 0,-1 0,-1 0.1,-1 0,-1 0,-1 0,-0.9 0.1,-1 0,-0.9 0.1,-1 0,-0.9 0,-0.9 0.1,-1 0,-0.9 0.1,-1 0,-0.9 0.1,-0.9 0,-1 0.1,-0.9 0.1,-1 0,-0.9 0.1,-1 0.1,-0.9 0.1,-1 0.1,-1 0.1,-1 0.1,-0.9 0.1,-1 0.1,-1 0.1,-0.9 0.1,-1 0.2,-1.1 0.1,-1 0.1,-1 0.2,-1 0.1,-1.1 0.1,-1 0.2,-1.1 0.1,-1 0.2,-1.1 0.1,-1 0.2,-1.1 0.1,-1 0.2,-1 0.2,-1 0.1,-1 0.2,-1 0.2,-1 0.2,-0.9 0.2,-1 0.1,-0.9 0.2,-0.9 0.2,-0.9 0.2,-0.8 0.2,-0.8 0.2,-0.8 0.2,-0.8 0.2,-0.7 0.3,-1.1 0.4,-1.1 0.3,-1 0.3,-1 0.3,-0.9 0.4,-0.9 0.3,-0.8 0.4,-0.9 0.4,-0.8 0.5,-0.8 0.5,-0.8 0.5,-0.8 0.5,-0.8 0.6,-0.8 0.6,-0.7 0.6,-0.7 0.6,-0.7 0.7,-0.7 0.7,-1 0.7,-1.1 0.8,-0.7 0.8,-0.2 0.8,0.2 0.8,-0.4 0.9,-1.2 0.7,-1.3 0.8,-0.8 0.8,-0.2 0.8,0.5 0.8,0.4 0.9,-0.4 0.8,-1.2 0.9,-1.2 0.9,-0.3 1,0.5 0.9,0.6 0.9,-0.4 1,-1.2 1,-1.1 1,0.1 1,0.8 1,0.3 1,-1 1,-1.3 1,-0.4 0.9,0.6 0.9,0.7 0.9,-0.1 0.9,-1 0.9,-1.2 0.9,-0.2 1,0.7 0.9,0.7 1,-0.3 1,-1.2 0.9,-0.9 1,0.3 1,0.9 1,0.3 1,-0.9 1,-1.1 1,-0.3 1,0.8 1,0.7 1,-0.4 1,-1.2 1.1,-0.7 1,0.5 1,0.9 0.9,0.1 1,-1 1,-1.1 1,0 1,0.9 0.9,0.6 1,-0.5 0.9,-1.1 1,-0.7 0.9,0.4 1,1 0.9,0.3 0.9,-0.7 1,-1.1 0.9,-0.4 0.9,0.6 1,0.9 0.9,0.1 1,-0.9 0.9,-1 1,-0.1 0.9,0.8 1,0.8 1,-0.4 1,-1.1 1,-0.7 1,0.5 1,1 1.1,0 1,-1.1 1.1,-0.9 1.1,0.3 0.9,0.9 0.9,0.4 1,-0.7 0.9,-1.1 1.1,-0.4 1,0.8 1.1,0.8 1.1,-0.4 1.1,-1.3 1.1,-0.4 1.2,1 1.2,0.7 1.2,-0.9 1.1,-1.2 1.3,0.2 1.2,1.2 1.2,-0.1 1.2,-1.4 1.2,-0.5 1.2,1 1.2,0.7 1.2,-1 1.2,-1.2 1.2,0.3 1.2,1.1 1.1,0 1.1,-1.3 1.1,-0.7 1.1,0.6 1.1,0.9 1,-0.1 1,-1.2 1,-0.9 1,0.3 0.9,0.8 0.8,0.5 0.9,-0.4 0.7,-0.9 0.8,-0.6 0.7,-0.2 0.6,0.2 0.6,0.2 0.5,0 0.5,-0.1 0.4,-0.2 0.4,-0.2 0.9,-0.7 0.6,-0.7 0.4,-0.2 0.4,0.4 0.3,0.8 0.3,1 0.1,0.5 0.1,0.6 0,0.7 0,0.7 0.1,0.8 0,0.9 -0.1,0.9 0,0.9 0,1 -0.1,1.1 0,1 -0.1,1.1 0,1.1 -0.1,1.2 0,1.1 0,1.2 -0.1,1.2 0,1.2 0,0.8 0,0.7 0,0.8 0,0.9 0,0.9 0,0.9 0,0.9 0,0.9 0,1 0,1 0,1 0,1 0,1 0,1.1 0,1.1 0,1 0,1.1 0,1.1 0,1.1 0,1.2 0,1.1 0,1.1 0,1.1 0,1.1 0,1.2 0,1.1 0,1.1 0,1.1 -0.1,1.1 0,1.1 0,1.1 0,1.1 0,1.1 0,1 -0.1,1 0,1.1 0,1 -0.1,0.9 0,1 0,0.9 -0.1,0.9 0,0.9 -0.1,0.9 -0.1,0.8 0,0.8 -0.1,0.8 0,0.7 -0.1,0.7 -0.1,0.7 -0.2,1.2 -0.1,1.1 -0.2,1.1 -0.2,1 -0.2,0.9 -0.2,0.9 -0.3,0.8 -0.2,0.9 -0.2,0.8 -0.3,0.8 -0.2,0.8 -0.3,0.9 -0.2,0.8 -0.3,0.9 -0.2,0.9 -0.3,0.9 -0.3,0.8 -0.3,0.9 -0.3,0.8 -0.3,0.9 -0.3,0.8 -0.3,0.9 -0.3,0.8 -0.3,0.9 -0.3,0.9 -0.2,0.9 -0.3,0.9 -0.2,0.9 -0.2,0.8 -0.3,0.9 -0.2,0.9 -0.3,0.9 -0.2,0.9 -0.3,0.9 -0.3,0.9 -0.3,0.9 -0.3,0.9 -0.4,1 -0.3,0.9 -0.4,0.9 -0.3,0.9 -0.4,0.8 -0.4,0.7 -0.5,0.8 -0.4,0.9 -0.5,1.1 -0.5,1.2 -0.6,1.3 -0.5,1 -0.6,0.6 -0.6,0.1 -0.7,0 -0.6,0.4 -0.7,0.9 -0.7,1.6 -0.7,1.5 -0.8,1 -0.7,0.2 -0.7,-0.3 -0.7,-0.2 -0.7,0.4 -0.7,1.1 -0.8,1.5 -0.8,1.1 -0.8,0.3 -0.8,-0.4 -0.9,-0.4 -0.8,0.4 -0.9,1.4 -0.9,1.4 -1,0.3 -0.8,-0.5 -0.8,-0.7 -0.8,0.1 -0.9,0.9 -0.8,1.3 -0.9,0.6 -0.9,-0.5 -0.9,-0.9 -0.9,-0.2 -1,0.9 -0.9,1.3 -1,0.4 -1,-0.8 -1,-0.9 -1,0.3 -1,1.4 -1.1,0.9 -1,-0.6 -1.1,-1.1 -1.1,0.1 -1.1,1.4 -1.1,1 -0.8,-0.3 -0.9,-0.9 -0.8,-0.6 -0.9,0.5 -0.9,1.2 -0.8,0.9 -0.9,-0.1 -0.9,-0.9 -1,-0.7 -0.9,0.4 -0.9,1.3 -1,0.9 -0.9,-0.3 -1,-1.1 -0.9,-0.4 -1,0.8 -1,1.3 -1,0.4 -1,-0.8 -1,-0.9 -1,0.3 -1,1.3 -1,0.9 -1,-0.4 -1,-1.1 -1.1,-0.2 -1,1.1 -1,1.2 -1,-0.1 -1.1,-1 -1,-0.6 -1,0.9 -1.1,1.3 -1,0.3 -1,-1 -1.1,-0.8 -1,0.6 -1,1.4 -1.1,0.6 -1,-0.7 -1,-1 -0.9,0.1 -1,1.1 -0.9,1.1 -0.9,0 -1,-0.9 -0.9,-0.8 -1,0.4 -0.9,1.3 -1,0.8 -1,-0.3 -0.9,-1.1 -1,-0.4 -1,0.9 -0.9,1.3 -1,0.4 -1,-0.8 -0.9,-1 -1,0.2 -1,1.2 -1,1 -0.9,-0.2 -1,-1 -1,-0.5 -1,0.7 -1,1.3 -1,0.5 -0.9,-0.8 -1,-0.9 -1,0.1 -1,1.3 -1,1 -1,-0.3 -1,-1.1 -1,-0.4 -0.9,0.8 -1,1.3 -1,0.4 -1,-0.9 -1,-0.9 -1,0.3 -1,1.2 -0.9,1 -1,-0.5 -1,-0.7 -1,0 -1,0.5 -0.9,0.3 -1,0.1 -1,0.1" fill="none" stroke="#DAAD34" stroke-width="1.1" stroke-linejoin="round"/>
<rect x="325.00" y="235.00" width="197.80" height="160.80" fill="none" stroke="#000" stroke-width="1.6"/>
<line x1="323.00" y1="251.70" x2="325.00" y2="251.70" stroke="#000" stroke-width="1.2"/>
<text x="323.30" y="255.10" font-size="10.4" text-anchor="end" font-weight="bold" >0.3</text>
<line x1="323.00" y1="272.27" x2="325.00" y2="272.27" stroke="#000" stroke-width="1.2"/>
<text x="323.30" y="275.67" font-size="10.4" text-anchor="end" font-weight="bold" >0.2</text>
<line x1="323.00" y1="292.84" x2="325.00" y2="292.84" stroke="#000" stroke-width="1.2"/>
<text x="323.30" y="296.24" font-size="10.4" text-anchor="end" font-weight="bold" >0.1</text>
<line x1="323.00" y1="313.41" x2="325.00" y2="313.41" stroke="#000" stroke-width="1.2"/>
<text x="323.30" y="316.81" font-size="10.4" text-anchor="end" font-weight="bold" >0.0</text>
<line x1="323.00" y1="333.98" x2="325.00" y2="333.98" stroke="#000" stroke-width="1.2"/>
<text x="323.30" y="337.38" font-size="10.4" text-anchor="end" font-weight="bold" >-0.1</text>
<line x1="323.00" y1="354.55" x2="325.00" y2="354.55" stroke="#000" stroke-width="1.2"/>
<text x="323.30" y="357.95" font-size="10.4" text-anchor="end" font-weight="bold" >-0.2</text>
<line x1="323.00" y1="375.12" x2="325.00" y2="375.12" stroke="#000" stroke-width="1.2"/>
<text x="323.30" y="378.52" font-size="10.4" text-anchor="end" font-weight="bold" >-0.3</text>
<line x1="323.00" y1="395.69" x2="325.00" y2="395.69" stroke="#000" stroke-width="1.2"/>
<text x="323.30" y="399.09" font-size="10.4" text-anchor="end" font-weight="bold" >-0.4</text>
<line x1="353.60" y1="395.80" x2="353.60" y2="397.80" stroke="#000" stroke-width="1.2"/>
<text x="353.60" y="407.20" font-size="10.4" text-anchor="middle" font-weight="bold" >0.70</text>
<line x1="381.80" y1="395.80" x2="381.80" y2="397.80" stroke="#000" stroke-width="1.2"/>
<text x="381.80" y="407.20" font-size="10.4" text-anchor="middle" font-weight="bold" >0.72</text>
<line x1="410.00" y1="395.80" x2="410.00" y2="397.80" stroke="#000" stroke-width="1.2"/>
<text x="410.00" y="407.20" font-size="10.4" text-anchor="middle" font-weight="bold" >0.74</text>
<line x1="438.20" y1="395.80" x2="438.20" y2="397.80" stroke="#000" stroke-width="1.2"/>
<text x="438.20" y="407.20" font-size="10.4" text-anchor="middle" font-weight="bold" >0.76</text>
<line x1="466.40" y1="395.80" x2="466.40" y2="397.80" stroke="#000" stroke-width="1.2"/>
<text x="466.40" y="407.20" font-size="10.4" text-anchor="middle" font-weight="bold" >0.78</text>
<line x1="494.60" y1="395.80" x2="494.60" y2="397.80" stroke="#000" stroke-width="1.2"/>
<text x="494.60" y="407.20" font-size="10.4" text-anchor="middle" font-weight="bold" >0.80</text>
<line x1="522.80" y1="395.80" x2="522.80" y2="397.80" stroke="#000" stroke-width="1.2"/>
<text x="522.80" y="407.20" font-size="10.4" text-anchor="middle" font-weight="bold" >0.82</text>
<text y="418.90" font-size="10.3" font-weight="bold"><tspan x="376.20">Potential</tspan><tspan x="418.60" font-weight="normal">(</tspan><tspan x="426.40">V</tspan><tspan x="437.60" font-style="italic" letter-spacing="-0.45">vs.</tspan><tspan x="450.10">RHE</tspan><tspan x="474.80" font-weight="normal">)</tspan></text>
<text transform="translate(301.80,0) rotate(-90)" y="0" font-size="10.3" font-weight="bold"><tspan x="-384.30">Current Density</tspan><tspan x="-302.50" font-weight="normal">(</tspan><tspan x="-297.10">mA cm</tspan><tspan x="-264.80" font-size="6.80" dy="-4.43">-2</tspan><tspan x="-257.00" dy="4.43" font-weight="normal">)</tspan></text>
<line x1="468.30" y1="332.30" x2="487.40" y2="332.30" stroke="#666666" stroke-width="1.3"/>
<text x="489.30" y="335.20" font-size="8.5" font-weight="bold">10mV s<tspan font-size="5.10" dy="-3.40">-1</tspan></text>
<line x1="468.30" y1="343.90" x2="487.40" y2="343.90" stroke="#EE5E6A" stroke-width="1.3"/>
<text x="489.30" y="346.80" font-size="8.5" font-weight="bold">20mV s<tspan font-size="5.10" dy="-3.40">-1</tspan></text>
<line x1="468.30" y1="355.60" x2="487.40" y2="355.60" stroke="#3A78D6" stroke-width="1.3"/>
<text x="489.30" y="358.50" font-size="8.5" font-weight="bold">30mV s<tspan font-size="5.10" dy="-3.40">-1</tspan></text>
<line x1="468.30" y1="367.10" x2="487.40" y2="367.10" stroke="#40B283" stroke-width="1.3"/>
<text x="489.30" y="370.00" font-size="8.5" font-weight="bold">40mV s<tspan font-size="5.10" dy="-3.40">-1</tspan></text>
<line x1="468.30" y1="378.50" x2="487.40" y2="378.50" stroke="#B277EE" stroke-width="1.3"/>
<text x="489.30" y="381.40" font-size="8.5" font-weight="bold">50mV s<tspan font-size="5.10" dy="-3.40">-1</tspan></text>
<line x1="468.30" y1="389.70" x2="487.40" y2="389.70" stroke="#DAAD34" stroke-width="1.3"/>
<text x="489.30" y="392.60" font-size="8.5" font-weight="bold">60mV s<tspan font-size="5.10" dy="-3.40">-1</tspan></text>
<text x="15.2" y="434.1" font-size="22" font-weight="normal">(e)</text>
<line x1="64.60" y1="584.60" x2="229.90" y2="516.50" stroke="#555555" stroke-width="1.1"/>
<line x1="64.60" y1="604.36" x2="229.90" y2="584.00" stroke="#EE4044" stroke-width="1.1"/>
<line x1="64.60" y1="581.00" x2="229.90" y2="464.00" stroke="#2F6FDB" stroke-width="1.1"/>
<line x1="64.60" y1="578.70" x2="229.90" y2="480.50" stroke="#2FA86A" stroke-width="1.1"/>
<rect x="62.60" y="585.60" width="4.0" height="4.0" fill="#555555"/>
<rect x="95.66" y="569.10" width="4.0" height="4.0" fill="#555555"/>
<rect x="128.72" y="553.00" width="4.0" height="4.0" fill="#555555"/>
<rect x="161.78" y="538.90" width="4.0" height="4.0" fill="#555555"/>
<rect x="194.84" y="525.60" width="4.0" height="4.0" fill="#555555"/>
<rect x="227.90" y="514.00" width="4.0" height="4.0" fill="#555555"/>
<circle cx="64.60" cy="604.70" r="2.4" fill="#EE4044"/>
<circle cx="97.66" cy="599.90" r="2.4" fill="#EE4044"/>
<circle cx="130.72" cy="596.10" r="2.4" fill="#EE4044"/>
<circle cx="163.78" cy="592.20" r="2.4" fill="#EE4044"/>
<circle cx="196.84" cy="588.20" r="2.4" fill="#EE4044"/>
<circle cx="229.90" cy="584.00" r="2.4" fill="#EE4044"/>
<path d="M64.60,579.59 L67.10,583.94 L62.10,583.94Z" fill="#2F6FDB"/>
<path d="M97.66,554.79 L100.16,559.14 L95.16,559.14Z" fill="#2F6FDB"/>
<path d="M130.72,531.79 L133.22,536.14 L128.22,536.14Z" fill="#2F6FDB"/>
<path d="M163.78,508.19 L166.28,512.54 L161.28,512.54Z" fill="#2F6FDB"/>
<path d="M196.84,485.89 L199.34,490.24 L194.34,490.24Z" fill="#2F6FDB"/>
<path d="M229.90,461.89 L232.40,466.24 L227.40,466.24Z" fill="#2F6FDB"/>
<path d="M64.60,586.01 L67.10,581.66 L62.10,581.66Z" fill="#2FA86A"/>
<path d="M97.66,561.61 L100.16,557.26 L95.16,557.26Z" fill="#2FA86A"/>
<path d="M130.72,540.61 L133.22,536.26 L128.22,536.26Z" fill="#2FA86A"/>
<path d="M163.78,519.11 L166.28,514.76 L161.28,514.76Z" fill="#2FA86A"/>
<path d="M196.84,502.81 L199.34,498.46 L194.34,498.46Z" fill="#2FA86A"/>
<path d="M229.90,486.81 L232.40,482.46 L227.40,482.46Z" fill="#2FA86A"/>
<rect x="70.10" y="462.50" width="4.0" height="4.0" fill="#555555"/>
<circle cx="72.10" cy="474.60" r="2.4" fill="#EE4044"/>
<path d="M72.10,483.69 L74.60,488.04 L69.60,488.04Z" fill="#2F6FDB"/>
<path d="M72.10,500.11 L74.60,495.76 L69.60,495.76Z" fill="#2FA86A"/>
<text x="84" y="467.40" font-size="8.2" font-weight="bold">P-CuO</text>
<text x="84" y="477.50" font-size="8.2" font-weight="bold">Cu<tspan font-size="5.08" dy="1.8">2</tspan><tspan dy="-1.8">O</tspan></text>
<text x="84" y="489.20" font-size="8.2" font-weight="bold">P-CuO-Ag</text>
<text x="84" y="500.40" font-size="8.2" font-weight="bold">Cu<tspan font-size="5.08" dy="1.8">2</tspan><tspan dy="-1.8">O-Ag</tspan></text>
<text transform="translate(185.00,490.00) rotate(-33.5)" x="0" y="0" font-size="8.6" font-weight="bold">4.77 mF cm<tspan font-size="5.33" dy="-3.61">-2</tspan></text>
<text transform="translate(192.00,499.20) rotate(-32)" x="0" y="0" font-size="8.6" font-weight="bold">4.02 mF cm<tspan font-size="5.33" dy="-3.61">-2</tspan></text>
<text transform="translate(192.50,523.00) rotate(-24)" x="0" y="0" font-size="8.6" font-weight="bold">2.93 mF cm<tspan font-size="5.33" dy="-3.61">-2</tspan></text>
<text transform="translate(180.00,585.00) rotate(-9)" x="0" y="0" font-size="8.6" font-weight="bold">0.828 mF cm<tspan font-size="5.33" dy="-3.61">-2</tspan></text>
<line x1="45.80" y1="611.60" x2="47.80" y2="611.60" stroke="#000" stroke-width="1.2"/>
<text x="44.80" y="615.00" font-size="10.4" text-anchor="end" font-weight="bold" >0.00</text>
<line x1="45.80" y1="586.90" x2="47.80" y2="586.90" stroke="#000" stroke-width="1.2"/>
<text x="44.80" y="590.30" font-size="10.4" text-anchor="end" font-weight="bold" >0.05</text>
<line x1="45.80" y1="562.20" x2="47.80" y2="562.20" stroke="#000" stroke-width="1.2"/>
<text x="44.80" y="565.60" font-size="10.4" text-anchor="end" font-weight="bold" >0.10</text>
<line x1="45.80" y1="537.50" x2="47.80" y2="537.50" stroke="#000" stroke-width="1.2"/>
<text x="44.80" y="540.90" font-size="10.4" text-anchor="end" font-weight="bold" >0.15</text>
<line x1="45.80" y1="512.80" x2="47.80" y2="512.80" stroke="#000" stroke-width="1.2"/>
<text x="44.80" y="516.20" font-size="10.4" text-anchor="end" font-weight="bold" >0.20</text>
<line x1="45.80" y1="488.10" x2="47.80" y2="488.10" stroke="#000" stroke-width="1.2"/>
<text x="44.80" y="491.50" font-size="10.4" text-anchor="end" font-weight="bold" >0.25</text>
<line x1="45.80" y1="463.40" x2="47.80" y2="463.40" stroke="#000" stroke-width="1.2"/>
<text x="44.80" y="466.80" font-size="10.4" text-anchor="end" font-weight="bold" >0.30</text>
<line x1="64.60" y1="611.60" x2="64.60" y2="613.60" stroke="#000" stroke-width="1.2"/>
<text x="64.60" y="623.20" font-size="10.4" text-anchor="middle" font-weight="bold" >10</text>
<line x1="97.66" y1="611.60" x2="97.66" y2="613.60" stroke="#000" stroke-width="1.2"/>
<text x="97.66" y="623.20" font-size="10.4" text-anchor="middle" font-weight="bold" >20</text>
<line x1="130.72" y1="611.60" x2="130.72" y2="613.60" stroke="#000" stroke-width="1.2"/>
<text x="130.72" y="623.20" font-size="10.4" text-anchor="middle" font-weight="bold" >30</text>
<line x1="163.78" y1="611.60" x2="163.78" y2="613.60" stroke="#000" stroke-width="1.2"/>
<text x="163.78" y="623.20" font-size="10.4" text-anchor="middle" font-weight="bold" >40</text>
<line x1="196.84" y1="611.60" x2="196.84" y2="613.60" stroke="#000" stroke-width="1.2"/>
<text x="196.84" y="623.20" font-size="10.4" text-anchor="middle" font-weight="bold" >50</text>
<line x1="229.90" y1="611.60" x2="229.90" y2="613.60" stroke="#000" stroke-width="1.2"/>
<text x="229.90" y="623.20" font-size="10.4" text-anchor="middle" font-weight="bold" >60</text>
<text y="635.0" font-size="10.36" font-weight="bold"><tspan x="103.2">Scan Rate</tspan><tspan x="150.2" font-weight="normal">(</tspan><tspan x="156.8">mV/S</tspan><tspan x="185.6" font-weight="normal">)</tspan></text>
<text transform="translate(21.20,0) rotate(-90)" y="0" font-size="10.8" font-weight="bold"><tspan x="-601.60">Current density</tspan><tspan x="-524.40" font-weight="normal">(</tspan><tspan x="-518.00">mA cm</tspan><tspan x="-484.60" font-size="7.13" dy="-4.64">-2</tspan><tspan x="-476.80" dy="4.64" font-weight="normal">)</tspan></text>
<rect x="47.80" y="451.40" width="198.70" height="160.20" fill="none" stroke="#000" stroke-width="1.6"/>
<text x="290.8" y="434.1" font-size="22" font-weight="normal">(f)</text>
<path d="M321.6,609.5l0,-0.9 0,-0.9 0,-0.9 0,-0.8 0,-0.9 0.1,-0.9 0,-0.9 0,-1 0,-1.1 0,-1.2 0,-0.7 0,-0.8 0,-0.7 0,-0.8 0,-0.9 0,-0.8 0.1,-0.9 0,-0.9 0,-0.9 0,-1 0,-0.9 0,-1 0,-1 0,-1 0,-1 0,-1.1 0,-1 0,-1.1 0.1,-1 0,-1.1 0,-1.1 0,-1 0,-1.1 0,-1.1 0,-1.1 0,-1 0,-1.1 0,-1.1 0.1,-1 0,-1 0,-1.1 0,-1 0,-0.9 0,-1 0,-1 0.1,-0.9 0,-1 0,-1 0,-1 0,-1 0,-1 0,-1 0.1,-1 0,-1 0,-1 0,-1.1 0,-1 0,-1 0.1,-1 0,-1 0,-1 0,-1 0,-1 0,-1.1 0.1,-1 0,-1 0,-0.9 0,-1 0,-1 0,-1 0.1,-0.9 0,-1 0,-0.9 0,-1 0,-0.9 0,-0.9 0.1,-0.9 0,-0.9 0,-0.9 0,-1.1 0,-1.1 0.1,-1.1 0,-1 0,-1.1 0,-1.1 0,-1.1 0,-1 0,-1.1 0.1,-1.1 0,-1 0,-1 0,-1 0,-1 0.1,-1 0,-0.9 0,-1 0,-0.9 0,-0.9 0.1,-0.8 0,-0.9 0,-0.8 0.1,-0.8 0,-0.7 0.1,-1.1 0,-1.1 0,-1 0.1,-0.9 0,-0.9 0.1,-0.9 0.1,-0.9 0.1,-0.8 0.2,-0.8 0.2,-1 0.3,-0.9 0.3,-0.8 0.3,-0.9 0.4,-0.8 0.4,-0.9 0.4,-1 0.5,-1 0.5,-0.3 0.5,-1.4 0.5,-0.4 0.6,-0.9 0.6,-1 0.6,-0.3 0.7,-1.1 0.7,-0.2 0.7,-0.9 0.7,-0.6 0.8,-0.2 0.8,-0.2 0.8,-1.1 0.9,-0.4 0.8,0 1,-0.1 0.9,-0.7 0.9,-0.5 1,0.2 1,-1.2 0.9,0.4 0.9,-0.8 0.9,-0.4 1,-0.3 0.9,0 1,0.2 1,-0.8 1,0.1 1,-0.2 1,-0.4 0.9,0 0.9,-0.6 0.8,-0.2 0.9,-0.1 1,0.3 0.9,-0.4 0.9,-0.2 0.9,0.1 1,-0.3 0.9,-0.2 1,0.3 1,-0.2 1,-0.5 0.9,0.2 0.9,-0.1 1,0.2 0.9,-0.2 1,-0.4 0.9,0.6 1,-0.8 1,0.2 1,0.3 1,-0.6 1,0.3 1,-0.4 1,0.5 1,0.1 1,-0.2 1.1,0.3 1,-0.6 0.9,0.4 0.9,-0.2 1,0 0.9,-0.1 0.9,0.3 1,0.1 0.9,-0.4 1,0.2 0.9,-0.6 1,0.6 1,-0.1 0.9,0.3 1,-0.1 1,-0.5 0.9,0.1 1,0.2 1,-0.6 0.9,0.4 1,-0.3 0.9,0 1,-0.1 1,0.6 0.9,-0.6 1,0.1 0.9,0.1 1,0.4 0.9,-0.8 1,0.3 0.9,0.1 1,0.2 0.9,-0.1 1,0 0.9,-0.6 1,0.1 0.9,-0.1 1,0.5 0.9,0 1,-0.8 0.9,0 1,0 0.9,0 1,0.2 1,0.1 0.9,-0.4 1,-0.2 0.9,0.3 1,0 0.9,0.1 1,0.4 0.9,-0.3 1,-0.2 0.9,0.1 1,0 0.9,-0.5 1,0.7 0.9,-0.1 1,0.1 0.9,-0.1 1,-0.4 0.9,0 1,-0.3 0.9,0.4 1,-0.5 1,0 0.9,0.1 1,-0.1 0.9,0.2 1,-0.3 0.9,-0.1 1,0.1 0.9,-0.1 1,0.2 0.9,-0.3 1,0.7 0.9,-0.2 1,-0.5 0.9,0.1 1,0 0.9,0 1,-0.2 0.9,0.6 1,0.1 0.9,-0.5 1,0 1,-0.4 0.9,0 1,0.2 0.9,-0.1 1,0.5 0.9,-0.7 1,-0.1 0.9,0.8 1,-0.4 0.9,-0.4 1,0.3 0.9,-0.5 1,0.5 0.9,0.3 1,-0.1 0.9,-0.2 1,-0.4 0.9,0.1 1,-0.2 0.9,0.5 1,-0.3 1,0.2 0.9,-0.4 1,-0.1 1,0.5 1,0.1 1,-0.2 1,0 1,-0.1 1,-0.1 1,-0.4 1,0.2 1,-0.2 0.9,-0.3 1,0 0.9,0.2 1,-0.1 0.9,0.4 0.9,0.2 0.8,-0.5 0.9,0.4 0.8,0 1.1,0 1,-0.6 1,-0.1 1,-0.1 0.9,0 1,0 0.9,0.3 0.9,0.2 0.9,0 0.9,-0.4 1,0.1" fill="none" stroke="#606060" stroke-width="3.1" stroke-linejoin="round" stroke-linecap="butt"/>
<defs><radialGradient id="sph" cx="0.36" cy="0.32" r="0.7"><stop offset="0" stop-color="#fff"/><stop offset="0.18" stop-color="#bbb"/><stop offset="0.45" stop-color="#222"/><stop offset="1" stop-color="#000"/></radialGradient></defs>
<circle cx="339.4" cy="460" r="3.35" fill="url(#sph)"/>
<circle cx="358.6" cy="455.6" r="3.35" fill="url(#sph)"/>
<circle cx="377.6" cy="459.6" r="3.35" fill="url(#sph)"/>
<circle cx="396.6" cy="453.6" r="3.35" fill="url(#sph)"/>
<circle cx="415.6" cy="465.6" r="3.35" fill="url(#sph)"/>
<circle cx="434.3" cy="457.6" r="3.35" fill="url(#sph)"/>
<circle cx="452.8" cy="456.8" r="3.35" fill="url(#sph)"/>
<circle cx="472.5" cy="460" r="3.35" fill="url(#sph)"/>
<circle cx="491.6" cy="459.1" r="3.35" fill="url(#sph)"/>
<circle cx="510.6" cy="456.2" r="3.35" fill="url(#sph)"/>
<line x1="337" y1="491.5" x2="353.6" y2="491.5" stroke="#000" stroke-width="1.9"/>
<path d="M333.2,491.5 L338.6,488.6 L338.6,494.4Z" fill="#000"/>
<line x1="458.2" y1="453.4" x2="475.2" y2="453.4" stroke="#000" stroke-width="1.9"/>
<path d="M479.6,453.4 L474.2,450.5 L474.2,456.3Z" fill="#000"/>
<text x="332.8" y="502.3" font-size="7.5" font-weight="bold" letter-spacing="0.1">Current density</text>
<text y="470.2" font-size="7.6" font-weight="bold"><tspan x="436.0">C</tspan><tspan font-size="6.4" dy="2.3">2</tspan><tspan dy="-2.3">H</tspan><tspan font-size="6.4" dy="2.3">4</tspan><tspan x="457.0" dy="-2.3" font-size="7.55">Faraday efficiency</tspan></text>
<line x1="318.70" y1="610.30" x2="320.70" y2="610.30" stroke="#000" stroke-width="1.2"/>
<text x="317.60" y="613.30" font-size="8.6" text-anchor="end" font-weight="bold" >-60</text>
<line x1="318.70" y1="580.40" x2="320.70" y2="580.40" stroke="#000" stroke-width="1.2"/>
<text x="317.60" y="583.40" font-size="8.6" text-anchor="end" font-weight="bold" >-50</text>
<line x1="318.70" y1="550.50" x2="320.70" y2="550.50" stroke="#000" stroke-width="1.2"/>
<text x="317.60" y="553.50" font-size="8.6" text-anchor="end" font-weight="bold" >-40</text>
<line x1="318.70" y1="520.60" x2="320.70" y2="520.60" stroke="#000" stroke-width="1.2"/>
<text x="317.60" y="523.60" font-size="8.6" text-anchor="end" font-weight="bold" >-30</text>
<line x1="318.70" y1="490.70" x2="320.70" y2="490.70" stroke="#000" stroke-width="1.2"/>
<text x="317.60" y="493.70" font-size="8.6" text-anchor="end" font-weight="bold" >-20</text>
<line x1="318.70" y1="460.80" x2="320.70" y2="460.80" stroke="#000" stroke-width="1.2"/>
<text x="317.60" y="463.80" font-size="8.6" text-anchor="end" font-weight="bold" >-10</text>
<line x1="521.30" y1="610.30" x2="523.30" y2="610.30" stroke="#000" stroke-width="1.2"/>
<text x="525.00" y="613.30" font-size="8.6" text-anchor="start" font-weight="bold" >0</text>
<line x1="521.30" y1="587.60" x2="523.30" y2="587.60" stroke="#000" stroke-width="1.2"/>
<text x="525.00" y="590.60" font-size="8.6" text-anchor="start" font-weight="bold" >5</text>
<line x1="521.30" y1="564.90" x2="523.30" y2="564.90" stroke="#000" stroke-width="1.2"/>
<text x="525.00" y="567.90" font-size="8.6" text-anchor="start" font-weight="bold" >10</text>
<line x1="521.30" y1="542.20" x2="523.30" y2="542.20" stroke="#000" stroke-width="1.2"/>
<text x="525.00" y="545.20" font-size="8.6" text-anchor="start" font-weight="bold" >15</text>
<line x1="521.30" y1="519.50" x2="523.30" y2="519.50" stroke="#000" stroke-width="1.2"/>
<text x="525.00" y="522.50" font-size="8.6" text-anchor="start" font-weight="bold" >20</text>
<line x1="521.30" y1="496.80" x2="523.30" y2="496.80" stroke="#000" stroke-width="1.2"/>
<text x="525.00" y="499.80" font-size="8.6" text-anchor="start" font-weight="bold" >25</text>
<line x1="521.30" y1="474.10" x2="523.30" y2="474.10" stroke="#000" stroke-width="1.2"/>
<text x="525.00" y="477.10" font-size="8.6" text-anchor="start" font-weight="bold" >30</text>
<line x1="521.30" y1="451.40" x2="523.30" y2="451.40" stroke="#000" stroke-width="1.2"/>
<text x="525.00" y="454.40" font-size="8.6" text-anchor="start" font-weight="bold" >35</text>
<line x1="320.70" y1="610.30" x2="320.70" y2="612.30" stroke="#000" stroke-width="1.2"/>
<text x="320.70" y="621.60" font-size="8.6" text-anchor="middle" font-weight="bold" >0</text>
<line x1="358.66" y1="610.30" x2="358.66" y2="612.30" stroke="#000" stroke-width="1.2"/>
<text x="358.66" y="621.60" font-size="8.6" text-anchor="middle" font-weight="bold" >1</text>
<line x1="396.62" y1="610.30" x2="396.62" y2="612.30" stroke="#000" stroke-width="1.2"/>
<text x="396.62" y="621.60" font-size="8.6" text-anchor="middle" font-weight="bold" >2</text>
<line x1="434.58" y1="610.30" x2="434.58" y2="612.30" stroke="#000" stroke-width="1.2"/>
<text x="434.58" y="621.60" font-size="8.6" text-anchor="middle" font-weight="bold" >3</text>
<line x1="472.54" y1="610.30" x2="472.54" y2="612.30" stroke="#000" stroke-width="1.2"/>
<text x="472.54" y="621.60" font-size="8.6" text-anchor="middle" font-weight="bold" >4</text>
<line x1="510.50" y1="610.30" x2="510.50" y2="612.30" stroke="#000" stroke-width="1.2"/>
<text x="510.50" y="621.60" font-size="8.6" text-anchor="middle" font-weight="bold" >5</text>
<text x="421.8" y="635.5" font-size="9.1" text-anchor="middle" font-weight="bold">Time (h)</text>
<text transform="translate(302.6,529) rotate(-90)" font-size="9.7" text-anchor="middle" font-weight="bold">J (mA cm<tspan font-size="6.4" dy="-3.8">-2</tspan><tspan dy="3.6">)</tspan></text>
<text transform="translate(544.2,528.5) rotate(-90)" font-size="8.7" text-anchor="middle" font-weight="bold">C<tspan font-size="6.2" dy="2">2</tspan><tspan dy="-2">H</tspan><tspan font-size="6.2" dy="2">4</tspan><tspan dy="-2">FE (%)</tspan></text>
<rect x="320.70" y="446.50" width="200.60" height="163.80" fill="none" stroke="#000" stroke-width="1.9"/>
</svg>
</body></html>
